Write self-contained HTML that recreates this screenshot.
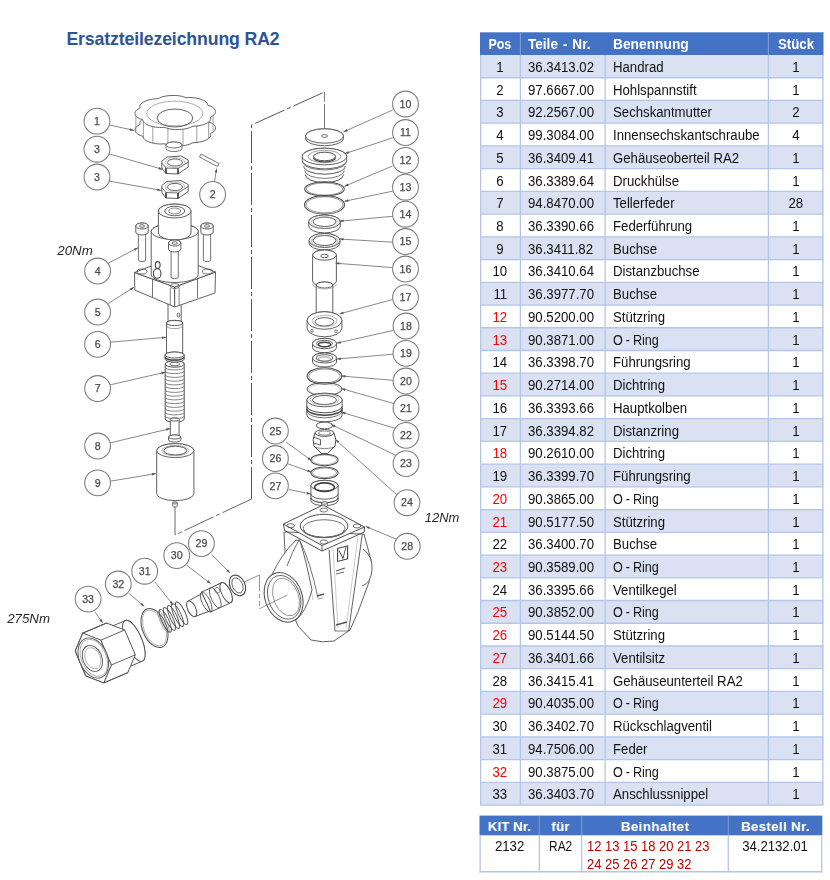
<!DOCTYPE html>
<html><head><meta charset="utf-8"><title>Ersatzteilezeichnung RA2</title>
<style>
html,body{margin:0;padding:0;background:#fff}
body{width:830px;height:880px;position:relative;overflow:hidden;font-family:"Liberation Sans",sans-serif}
</style></head><body>
<div style="position:absolute;left:66.4px;top:28.95px;font-size:17.7px;line-height:20px;font-weight:bold;color:#2d5596;letter-spacing:-0.13px;white-space:nowrap">Ersatzteilezeichnung RA2</div>
<svg width="830" height="880" viewBox="0 0 830 880" style="position:absolute;left:0;top:0;filter:blur(0.3px)" font-family="Liberation Sans, sans-serif"><path d="M251.5,499 L251.5,125 L324.5,92" stroke="#555" stroke-width="1.0" fill="none" stroke-dasharray="32,3,4,3"/>
<line x1="324.5" y1="92.0" x2="324.5" y2="101.7" stroke="#555" stroke-width="0.8" />
<line x1="324.5" y1="104.0" x2="324.5" y2="136.0" stroke="#555" stroke-width="0.8" />
<path d="M251.5,499 L175,535 L175,505" stroke="#555" stroke-width="0.9" fill="none" stroke-dasharray="32,3,4,3"/>
<path d="M215.5,129.0 L215.1,129.9 L214.6,130.7 L213.8,131.6 L212.7,132.4 L211.3,133.1 L210.3,133.8 L210.8,134.8 L210.7,135.7 L210.4,136.6 L209.8,137.4 L208.9,138.2 L207.9,139.0 L206.7,139.8 L205.3,140.4 L203.7,141.0 L202.0,141.5 L200.2,142.0 L198.2,142.3 L196.1,142.6 L193.9,142.7 L192.0,142.9 L190.8,143.7 L189.2,144.3 L187.5,144.9 L185.6,145.3 L183.6,145.6 L181.6,145.8 L179.5,146.0 L177.4,146.0 L175.3,146.0 L173.2,145.9 L171.2,145.6 L169.2,145.3 L167.3,144.8 L165.7,144.2 L163.9,143.8 L161.7,144.0 L159.5,144.0 L157.4,143.8 L155.4,143.6 L153.5,143.2 L151.6,142.8 L149.9,142.3 L148.3,141.7 L146.9,141.0 L145.7,140.3 L144.6,139.5 L143.8,138.7 L143.2,137.8 L143.0,136.9 L142.5,136.1 L140.6,135.5 L139.1,134.9 L137.9,134.2 L136.9,133.4 L136.1,132.5 L135.5,131.7 L135.2,130.8 L135.0,129.9 L135.1,129.0 L135.5,128.1 L136.0,127.3 L136.8,126.4 L137.9,125.6 L139.3,124.9 L140.3,124.2 L139.8,123.2 L139.9,122.3 L140.2,121.4 L140.8,120.6 L141.7,119.8 L142.7,119.0 L143.9,118.2 L145.3,117.6 L146.9,117.0 L148.6,116.5 L150.4,116.0 L152.4,115.7 L154.5,115.4 L156.7,115.3 L158.6,115.1 L159.8,114.3 L161.4,113.7 L163.1,113.1 L165.0,112.7 L167.0,112.4 L169.0,112.2 L171.1,112.0 L173.2,112.0 L175.3,112.0 L177.4,112.1 L179.4,112.4 L181.4,112.7 L183.3,113.2 L184.9,113.8 L186.7,114.2 L188.9,114.0 L191.1,114.0 L193.2,114.2 L195.2,114.4 L197.1,114.8 L199.0,115.2 L200.7,115.7 L202.3,116.3 L203.7,117.0 L204.9,117.7 L206.0,118.5 L206.8,119.3 L207.4,120.2 L207.6,121.1 L208.1,121.9 L210.0,122.5 L211.5,123.1 L212.7,123.8 L213.7,124.6 L214.5,125.5 L215.1,126.3 L215.4,127.2 L215.6,128.1 L215.5,129.0 Z" stroke="#4f4f4f" stroke-width="0.9" fill="#fff" />
<line x1="213.1" y1="115.6" x2="213.1" y2="132.1" stroke="#777" stroke-width="0.7" />
<line x1="208.6" y1="122.0" x2="208.6" y2="138.5" stroke="#777" stroke-width="0.7" />
<line x1="196.8" y1="126.0" x2="196.8" y2="142.5" stroke="#777" stroke-width="0.7" />
<line x1="183.0" y1="129.2" x2="183.0" y2="145.7" stroke="#777" stroke-width="0.7" />
<line x1="167.9" y1="128.5" x2="167.9" y2="145.0" stroke="#777" stroke-width="0.7" />
<line x1="152.8" y1="126.6" x2="152.8" y2="143.1" stroke="#777" stroke-width="0.7" />
<line x1="143.4" y1="121.6" x2="143.4" y2="138.1" stroke="#777" stroke-width="0.7" />
<line x1="135.9" y1="115.7" x2="135.9" y2="132.2" stroke="#777" stroke-width="0.7" />
<path d="M215.5,112.5 L215.1,113.4 L214.6,114.2 L213.8,115.1 L212.7,115.9 L211.3,116.6 L210.3,117.3 L210.8,118.3 L210.7,119.2 L210.4,120.1 L209.8,120.9 L208.9,121.7 L207.9,122.5 L206.7,123.3 L205.3,123.9 L203.7,124.5 L202.0,125.0 L200.2,125.5 L198.2,125.8 L196.1,126.1 L193.9,126.2 L192.0,126.4 L190.8,127.2 L189.2,127.8 L187.5,128.4 L185.6,128.8 L183.6,129.1 L181.6,129.3 L179.5,129.5 L177.4,129.5 L175.3,129.5 L173.2,129.4 L171.2,129.1 L169.2,128.8 L167.3,128.3 L165.7,127.7 L163.9,127.3 L161.7,127.5 L159.5,127.5 L157.4,127.3 L155.4,127.1 L153.5,126.7 L151.6,126.3 L149.9,125.8 L148.3,125.2 L146.9,124.5 L145.7,123.8 L144.6,123.0 L143.8,122.2 L143.2,121.3 L143.0,120.4 L142.5,119.6 L140.6,119.0 L139.1,118.4 L137.9,117.7 L136.9,116.9 L136.1,116.0 L135.5,115.2 L135.2,114.3 L135.0,113.4 L135.1,112.5 L135.5,111.6 L136.0,110.8 L136.8,109.9 L137.9,109.1 L139.3,108.4 L140.3,107.7 L139.8,106.7 L139.9,105.8 L140.2,104.9 L140.8,104.1 L141.7,103.3 L142.7,102.5 L143.9,101.7 L145.3,101.1 L146.9,100.5 L148.6,100.0 L150.4,99.5 L152.4,99.2 L154.5,98.9 L156.7,98.8 L158.6,98.6 L159.8,97.8 L161.4,97.2 L163.1,96.6 L165.0,96.2 L167.0,95.9 L169.0,95.7 L171.1,95.5 L173.2,95.5 L175.3,95.5 L177.4,95.6 L179.4,95.9 L181.4,96.2 L183.3,96.7 L184.9,97.3 L186.7,97.7 L188.9,97.5 L191.1,97.5 L193.2,97.7 L195.2,97.9 L197.1,98.3 L199.0,98.7 L200.7,99.2 L202.3,99.8 L203.7,100.5 L204.9,101.2 L206.0,102.0 L206.8,102.8 L207.4,103.7 L207.6,104.6 L208.1,105.4 L210.0,106.0 L211.5,106.6 L212.7,107.3 L213.7,108.1 L214.5,109.0 L215.1,109.8 L215.4,110.7 L215.6,111.6 L215.5,112.5 Z" stroke="#4f4f4f" stroke-width="0.9" fill="#fff" />
<ellipse cx="174.8" cy="113.5" rx="28.0" ry="12.3" stroke="#888" stroke-width="0.7" fill="none"/>
<ellipse cx="175.0" cy="118.0" rx="17.8" ry="9.0" stroke="#4f4f4f" stroke-width="0.9" fill="none"/>
<path d="M166.0,145.0 L166.0,148.5 A8.0,3.0 0 0 0 182.0,148.5 L182.0,145.0 A8.0,3.0 0 0 0 166.0,145.0 Z" stroke="#4f4f4f" stroke-width="0.8" fill="#fff" />
<ellipse cx="174.0" cy="145.0" rx="8.0" ry="3.0" stroke="#4f4f4f" stroke-width="0.8" fill="#fff"/>
<path d="M201,154 L219,163.5 L217.5,166.5 L199.5,157 Z" stroke="#555" stroke-width="0.8" fill="#fff" />
<path d="M161.8,161.0 L167.0,157.0 L181.0,156.0 L188.2,160.0 L188.2,167.0 L178.0,174.0 L166.0,173.5 L161.8,168.0 Z" stroke="#4f4f4f" stroke-width="0.9" fill="#fff" />
<path d="M161.8,163.0 L166.0,168.0 L178.0,168.5 L188.2,162.0" stroke="#4f4f4f" stroke-width="0.8" fill="none" />
<line x1="166.0" y1="168.0" x2="166.0" y2="173.5" stroke="#333" stroke-width="1.6" />
<line x1="178.0" y1="168.5" x2="178.0" y2="174.0" stroke="#333" stroke-width="1.6" />
<ellipse cx="175.0" cy="162.5" rx="7.5" ry="3.6" stroke="#4f4f4f" stroke-width="0.9" fill="none"/>
<ellipse cx="175.0" cy="162.5" rx="10.0" ry="5.0" stroke="#999" stroke-width="0.6" fill="none"/>
<path d="M161.8,185.5 L167.0,181.5 L181.0,180.5 L188.2,184.5 L188.2,191.5 L178.0,198.5 L166.0,198.0 L161.8,192.5 Z" stroke="#4f4f4f" stroke-width="0.9" fill="#fff" />
<path d="M161.8,187.5 L166.0,192.5 L178.0,193.0 L188.2,186.5" stroke="#4f4f4f" stroke-width="0.8" fill="none" />
<line x1="166.0" y1="192.5" x2="166.0" y2="198.0" stroke="#333" stroke-width="1.6" />
<line x1="178.0" y1="193.0" x2="178.0" y2="198.5" stroke="#333" stroke-width="1.6" />
<ellipse cx="175.0" cy="187.0" rx="7.5" ry="3.6" stroke="#4f4f4f" stroke-width="0.9" fill="none"/>
<ellipse cx="175.0" cy="187.0" rx="10.0" ry="5.0" stroke="#999" stroke-width="0.6" fill="none"/>
<path d="M168.0,300.0 L168.0,323.0 A6.6,2.3 0 0 0 181.2,323.0 L181.2,300.0 A6.6,2.3 0 0 0 168.0,300.0 Z" stroke="#4f4f4f" stroke-width="0.9" fill="#fff" />
<ellipse cx="174.6" cy="300.0" rx="6.6" ry="2.3" stroke="#4f4f4f" stroke-width="0.9" fill="#fff"/>
<ellipse cx="178.5" cy="315.0" rx="1.3" ry="2.0" stroke="#444" stroke-width="0.8" fill="none"/>
<path d="M166.5,323.0 L166.5,355.0 A8.1,2.6 0 0 0 182.7,355.0 L182.7,323.0 A8.1,2.6 0 0 0 166.5,323.0 Z" stroke="#4f4f4f" stroke-width="0.9" fill="#fff" />
<ellipse cx="174.6" cy="323.0" rx="8.1" ry="2.6" stroke="#4f4f4f" stroke-width="0.9" fill="#fff"/>
<path d="M166.5,326.0 A8.1,2.6 0 0 0 182.7,326.0" stroke="#777" stroke-width="0.7" fill="none" />
<path d="M165.0,355.0 L165.0,359.0 A9.6,3.0 0 0 0 184.2,359.0 L184.2,355.0 A9.6,3.0 0 0 0 165.0,355.0 Z" stroke="#4f4f4f" stroke-width="0.9" fill="#fff" />
<ellipse cx="174.6" cy="355.0" rx="9.6" ry="3.0" stroke="#4f4f4f" stroke-width="0.9" fill="#fff"/>
<path d="M165.0,357.0 A9.6,3.0 0 0 0 184.2,357.0" stroke="#444" stroke-width="1.4" fill="none" />
<path d="M134.5,272.5 L174.7,287 L174.7,307 L134.8,290 Z" stroke="#4f4f4f" stroke-width="0.9" fill="#fff" />
<path d="M174.7,287 L215.5,272 L215,293 L174.7,307 Z" stroke="#4f4f4f" stroke-width="0.9" fill="#fff" />
<path d="M134.5,272.5 L174.7,257 L215.5,272 L174.7,287 Z" stroke="#4f4f4f" stroke-width="0.9" fill="#fff" />
<line x1="152.5" y1="279.0" x2="152.5" y2="297.0" stroke="#4f4f4f" stroke-width="0.8" />
<line x1="197.5" y1="279.0" x2="197.5" y2="298.0" stroke="#4f4f4f" stroke-width="0.8" />
<ellipse cx="142.0" cy="271.5" rx="5.0" ry="2.5" stroke="#4f4f4f" stroke-width="0.8" fill="none"/>
<ellipse cx="207.4" cy="271.5" rx="5.0" ry="2.5" stroke="#4f4f4f" stroke-width="0.8" fill="none"/>
<ellipse cx="174.7" cy="286.0" rx="4.6" ry="2.3" stroke="#4f4f4f" stroke-width="0.8" fill="none"/>
<line x1="170.3" y1="288.0" x2="170.3" y2="305.0" stroke="#4f4f4f" stroke-width="0.7" />
<line x1="179.1" y1="288.0" x2="179.1" y2="305.0" stroke="#4f4f4f" stroke-width="0.7" />
<path d="M151.2,231.5 L151.2,274.5 A23.5,8.0 0 0 0 198.2,274.5 L198.2,231.5 A23.5,8.0 0 0 0 151.2,231.5 Z" stroke="#4f4f4f" stroke-width="0.9" fill="#fff" />
<ellipse cx="174.7" cy="231.5" rx="23.5" ry="8.0" stroke="#4f4f4f" stroke-width="0.9" fill="#fff"/>
<path d="M158.4,211.0 L158.4,233.0 A16.3,7.0 0 0 0 191.0,233.0 L191.0,211.0 A16.3,7.0 0 0 0 158.4,211.0 Z" stroke="#4f4f4f" stroke-width="0.9" fill="#fff" />
<ellipse cx="174.7" cy="211.0" rx="16.3" ry="7.0" stroke="#4f4f4f" stroke-width="0.9" fill="#fff"/>
<ellipse cx="174.7" cy="211.0" rx="10.0" ry="4.8" stroke="#4f4f4f" stroke-width="0.9" fill="none"/>
<ellipse cx="174.7" cy="211.0" rx="6.0" ry="3.0" stroke="#4f4f4f" stroke-width="0.7" fill="none"/>
<path d="M138.4,231.0 L138.4,260.0 A3.6,1.6 0 0 0 145.6,260.0 L145.6,231.0 A3.6,1.6 0 0 0 138.4,231.0 Z" stroke="#4f4f4f" stroke-width="0.8" fill="#fff" />
<ellipse cx="142.0" cy="231.0" rx="3.6" ry="1.6" stroke="#4f4f4f" stroke-width="0.8" fill="#fff"/>
<path d="M135.8,226.0 L135.8,232.0 A6.2,3.0 0 0 0 148.2,232.0 L148.2,226.0 A6.2,3.0 0 0 0 135.8,226.0 Z" stroke="#4f4f4f" stroke-width="0.9" fill="#fff" />
<ellipse cx="142.0" cy="226.0" rx="6.2" ry="3.0" stroke="#4f4f4f" stroke-width="0.9" fill="#fff"/>
<ellipse cx="142.0" cy="226.0" rx="2.5" ry="1.3" stroke="#444" stroke-width="0.8" fill="none"/>
<path d="M203.4,231.0 L203.4,260.0 A3.6,1.6 0 0 0 210.6,260.0 L210.6,231.0 A3.6,1.6 0 0 0 203.4,231.0 Z" stroke="#4f4f4f" stroke-width="0.8" fill="#fff" />
<ellipse cx="207.0" cy="231.0" rx="3.6" ry="1.6" stroke="#4f4f4f" stroke-width="0.8" fill="#fff"/>
<path d="M200.8,226.0 L200.8,232.0 A6.2,3.0 0 0 0 213.2,232.0 L213.2,226.0 A6.2,3.0 0 0 0 200.8,226.0 Z" stroke="#4f4f4f" stroke-width="0.9" fill="#fff" />
<ellipse cx="207.0" cy="226.0" rx="6.2" ry="3.0" stroke="#4f4f4f" stroke-width="0.9" fill="#fff"/>
<ellipse cx="207.0" cy="226.0" rx="2.5" ry="1.3" stroke="#444" stroke-width="0.8" fill="none"/>
<path d="M171.1,248.0 L171.1,277.0 A3.6,1.6 0 0 0 178.3,277.0 L178.3,248.0 A3.6,1.6 0 0 0 171.1,248.0 Z" stroke="#4f4f4f" stroke-width="0.8" fill="#fff" />
<ellipse cx="174.7" cy="248.0" rx="3.6" ry="1.6" stroke="#4f4f4f" stroke-width="0.8" fill="#fff"/>
<path d="M168.5,243.0 L168.5,249.0 A6.2,3.0 0 0 0 180.9,249.0 L180.9,243.0 A6.2,3.0 0 0 0 168.5,243.0 Z" stroke="#4f4f4f" stroke-width="0.9" fill="#fff" />
<ellipse cx="174.7" cy="243.0" rx="6.2" ry="3.0" stroke="#4f4f4f" stroke-width="0.9" fill="#fff"/>
<ellipse cx="174.7" cy="243.0" rx="2.5" ry="1.3" stroke="#444" stroke-width="0.8" fill="none"/>
<ellipse cx="157.7" cy="265.0" rx="2.4" ry="3.4" stroke="#444" stroke-width="1.1" fill="none"/>
<ellipse cx="157.2" cy="273.4" rx="3.8" ry="4.8" stroke="#444" stroke-width="1.1" fill="none"/>
<path d="M165.2,364.0 L165.2,419.0 A9.5,3.2 0 0 0 184.2,419.0 L184.2,364.0 A9.5,3.2 0 0 0 165.2,364.0 Z" stroke="#4f4f4f" stroke-width="1.0" fill="#fff" />
<ellipse cx="174.7" cy="364.0" rx="9.5" ry="3.2" stroke="#4f4f4f" stroke-width="1.0" fill="#fff"/>
<ellipse cx="174.7" cy="364.0" rx="5.0" ry="1.8" stroke="#4f4f4f" stroke-width="0.9" fill="none"/>
<path d="M165.2,367.5 A9.5,2.4 0 0 0 184.2,367.5" stroke="#666" stroke-width="0.8" fill="none" />
<path d="M165.2,371.2 A9.5,2.4 0 0 0 184.2,371.2" stroke="#666" stroke-width="0.8" fill="none" />
<path d="M165.2,375.0 A9.5,2.4 0 0 0 184.2,375.0" stroke="#666" stroke-width="0.8" fill="none" />
<path d="M165.2,378.8 A9.5,2.4 0 0 0 184.2,378.8" stroke="#666" stroke-width="0.8" fill="none" />
<path d="M165.2,382.5 A9.5,2.4 0 0 0 184.2,382.5" stroke="#666" stroke-width="0.8" fill="none" />
<path d="M165.2,386.2 A9.5,2.4 0 0 0 184.2,386.2" stroke="#666" stroke-width="0.8" fill="none" />
<path d="M165.2,390.0 A9.5,2.4 0 0 0 184.2,390.0" stroke="#666" stroke-width="0.8" fill="none" />
<path d="M165.2,393.8 A9.5,2.4 0 0 0 184.2,393.8" stroke="#666" stroke-width="0.8" fill="none" />
<path d="M165.2,397.5 A9.5,2.4 0 0 0 184.2,397.5" stroke="#666" stroke-width="0.8" fill="none" />
<path d="M165.2,401.2 A9.5,2.4 0 0 0 184.2,401.2" stroke="#666" stroke-width="0.8" fill="none" />
<path d="M165.2,405.0 A9.5,2.4 0 0 0 184.2,405.0" stroke="#666" stroke-width="0.8" fill="none" />
<path d="M165.2,408.8 A9.5,2.4 0 0 0 184.2,408.8" stroke="#666" stroke-width="0.8" fill="none" />
<path d="M165.2,412.5 A9.5,2.4 0 0 0 184.2,412.5" stroke="#666" stroke-width="0.8" fill="none" />
<path d="M165.2,416.2 A9.5,2.4 0 0 0 184.2,416.2" stroke="#666" stroke-width="0.8" fill="none" />
<path d="M170.3,419.5 L170.3,436.5 A4.4,1.6 0 0 0 179.1,436.5 L179.1,419.5 A4.4,1.6 0 0 0 170.3,419.5 Z" stroke="#4f4f4f" stroke-width="0.9" fill="#fff" />
<ellipse cx="174.7" cy="419.5" rx="4.4" ry="1.6" stroke="#4f4f4f" stroke-width="0.9" fill="#fff"/>
<path d="M168.5,437.0 L168.5,440.0 A6.2,2.0 0 0 0 180.9,440.0 L180.9,437.0 A6.2,2.0 0 0 0 168.5,437.0 Z" stroke="#4f4f4f" stroke-width="0.9" fill="#fff" />
<ellipse cx="174.7" cy="437.0" rx="6.2" ry="2.0" stroke="#4f4f4f" stroke-width="0.9" fill="#fff"/>
<path d="M156.7,450.6 L156.7,493.6 A18.6,7.0 0 0 0 193.9,493.6 L193.9,450.6 A18.6,7.0 0 0 0 156.7,450.6 Z" stroke="#4f4f4f" stroke-width="0.9" fill="#fff" />
<ellipse cx="175.3" cy="450.6" rx="18.6" ry="7.0" stroke="#4f4f4f" stroke-width="0.9" fill="#fff"/>
<ellipse cx="175.3" cy="450.6" rx="11.5" ry="4.4" stroke="#4f4f4f" stroke-width="1.0" fill="none"/>
<ellipse cx="175.3" cy="450.6" rx="13.5" ry="5.2" stroke="#888" stroke-width="0.6" fill="none"/>
<path d="M172.7,503.0 L172.7,506.0 A2.3,1.0 0 0 0 177.3,506.0 L177.3,503.0 A2.3,1.0 0 0 0 172.7,503.0 Z" stroke="#4f4f4f" stroke-width="0.8" fill="#fff" />
<ellipse cx="175.0" cy="503.0" rx="2.3" ry="1.0" stroke="#4f4f4f" stroke-width="0.8" fill="#fff"/>
<path d="M305.5,136.0 L305.5,138.5 A19.0,7.2 0 0 0 343.5,138.5 L343.5,136.0 A19.0,7.2 0 0 0 305.5,136.0 Z" stroke="#4f4f4f" stroke-width="0.9" fill="#fff" />
<ellipse cx="324.5" cy="136.0" rx="19.0" ry="7.2" stroke="#4f4f4f" stroke-width="0.9" fill="#fff"/>
<ellipse cx="324.5" cy="136.0" rx="3.0" ry="1.4" stroke="#4f4f4f" stroke-width="0.8" fill="none"/>
<path d="M305.4,174.6 A19.1,8.0 0 0 0 343.6,174.6" stroke="#555" stroke-width="1.0" fill="none" />
<path d="M304.6,170.4 A19.9,8.0 0 0 0 344.4,170.4" stroke="#555" stroke-width="0.8" fill="none" />
<path d="M303.8,166.2 A20.7,8.0 0 0 0 345.2,166.2" stroke="#555" stroke-width="1.0" fill="none" />
<path d="M303.0,162.0 A21.5,8.0 0 0 0 346.0,162.0" stroke="#555" stroke-width="0.8" fill="none" />
<path d="M302.3,156.5 L302.3,160.5 A22.2,8.3 0 0 0 346.7,160.5 L346.7,156.5 A22.2,8.3 0 0 0 302.3,156.5 Z" stroke="#4f4f4f" stroke-width="0.9" fill="#fff" />
<ellipse cx="324.5" cy="156.5" rx="22.2" ry="8.3" stroke="#4f4f4f" stroke-width="0.9" fill="#fff"/>
<ellipse cx="324.5" cy="156.5" rx="16.5" ry="6.2" stroke="#777" stroke-width="0.7" fill="none"/>
<ellipse cx="324.5" cy="156.5" rx="11.0" ry="4.3" stroke="#4f4f4f" stroke-width="1.0" fill="none"/>
<path d="M313.5,157.5 A11.0,4.3 0 0 0 335.5,157.5" stroke="#555" stroke-width="1.3" fill="none" />
<ellipse cx="324.5" cy="189.0" rx="19.8" ry="7.2" stroke="#4f4f4f" stroke-width="1.1" fill="none"/>
<ellipse cx="324.5" cy="189.0" rx="18.3" ry="6.1" stroke="#4f4f4f" stroke-width="0.6" fill="none"/>
<ellipse cx="324.5" cy="204.8" rx="20.0" ry="9.3" stroke="#4f4f4f" stroke-width="1.1" fill="none"/>
<ellipse cx="324.5" cy="204.8" rx="18.5" ry="8.1" stroke="#4f4f4f" stroke-width="0.6" fill="none"/>
<path d="M308.7,221.8 L308.7,226.1 A15.8,6.8 0 0 0 340.3,226.1 L340.3,221.8 A15.8,6.8 0 0 0 308.7,221.8 Z" stroke="#4f4f4f" stroke-width="0.9" fill="#fff" />
<ellipse cx="324.5" cy="221.8" rx="15.8" ry="6.8" stroke="#4f4f4f" stroke-width="0.9" fill="#fff"/>
<ellipse cx="324.5" cy="221.8" rx="11.5" ry="4.7" stroke="#4f4f4f" stroke-width="0.9" fill="none"/>
<ellipse cx="324.5" cy="222.5" rx="13.5" ry="5.7" stroke="#999" stroke-width="0.5" fill="none"/>
<path d="M309.0,240.5 L309.0,243.0 A15.5,7.0 0 0 0 340.0,243.0 L340.0,240.5 A15.5,7.0 0 0 0 309.0,240.5 Z" stroke="#4f4f4f" stroke-width="0.9" fill="#fff" />
<ellipse cx="324.5" cy="240.5" rx="15.5" ry="7.0" stroke="#4f4f4f" stroke-width="0.9" fill="#fff"/>
<ellipse cx="324.5" cy="240.5" rx="11.5" ry="5.0" stroke="#4f4f4f" stroke-width="0.9" fill="none"/>
<ellipse cx="324.5" cy="241.2" rx="13.2" ry="5.9" stroke="#888" stroke-width="0.6" fill="none"/>
<path d="M312.6,255.1 L312.6,281.1 A11.9,5.1 0 0 0 336.4,281.1 L336.4,255.1 A11.9,5.1 0 0 0 312.6,255.1 Z" stroke="#4f4f4f" stroke-width="0.9" fill="#fff" />
<ellipse cx="324.5" cy="255.1" rx="11.9" ry="5.1" stroke="#4f4f4f" stroke-width="0.9" fill="#fff"/>
<ellipse cx="324.5" cy="256.0" rx="3.8" ry="1.7" stroke="#4f4f4f" stroke-width="0.9" fill="none"/>
<path d="M316.2,285.0 L316.2,312.0 A8.3,3.0 0 0 0 332.8,312.0 L332.8,285.0 A8.3,3.0 0 0 0 316.2,285.0 Z" stroke="#4f4f4f" stroke-width="0.9" fill="#fff" />
<ellipse cx="324.5" cy="285.0" rx="8.3" ry="3.0" stroke="#4f4f4f" stroke-width="0.9" fill="#fff"/>
<path d="M312.6,284.0 A11.9,5.0 0 0 0 336.4,284.0" stroke="#888" stroke-width="0.6" fill="none" />
<path d="M307.1,320.5 L307.1,328.0 A17.4,8.8 0 0 0 341.9,328.0 L341.9,320.5 A17.4,8.8 0 0 0 307.1,320.5 Z" stroke="#4f4f4f" stroke-width="0.9" fill="#fff" />
<ellipse cx="324.5" cy="320.5" rx="17.4" ry="8.8" stroke="#4f4f4f" stroke-width="0.9" fill="#fff"/>
<ellipse cx="324.5" cy="321.8" rx="9.5" ry="4.2" stroke="#4f4f4f" stroke-width="0.9" fill="none"/>
<ellipse cx="324.5" cy="321.0" rx="12.5" ry="5.8" stroke="#888" stroke-width="0.6" fill="none"/>
<ellipse cx="312.0" cy="330.7" rx="1.2" ry="1.6" stroke="#4f4f4f" stroke-width="0.8" fill="none"/>
<ellipse cx="336.0" cy="331.4" rx="1.2" ry="1.6" stroke="#4f4f4f" stroke-width="0.8" fill="none"/>
<path d="M312.5,343.5 L312.5,347.5 A12.0,5.2 0 0 0 336.5,347.5 L336.5,343.5 A12.0,5.2 0 0 0 312.5,343.5 Z" stroke="#4f4f4f" stroke-width="0.9" fill="#fff" />
<ellipse cx="324.5" cy="343.5" rx="12.0" ry="5.2" stroke="#4f4f4f" stroke-width="0.9" fill="#fff"/>
<ellipse cx="324.5" cy="343.5" rx="8.0" ry="3.2" stroke="#4f4f4f" stroke-width="0.9" fill="none"/>
<ellipse cx="324.5" cy="344.5" rx="6.0" ry="2.2" stroke="#444" stroke-width="1.4" fill="none"/>
<path d="M312.5,358.0 L312.5,362.0 A12.0,5.0 0 0 0 336.5,362.0 L336.5,358.0 A12.0,5.0 0 0 0 312.5,358.0 Z" stroke="#4f4f4f" stroke-width="0.9" fill="#fff" />
<ellipse cx="324.5" cy="358.0" rx="12.0" ry="5.0" stroke="#4f4f4f" stroke-width="0.9" fill="#fff"/>
<ellipse cx="324.5" cy="358.0" rx="8.5" ry="3.3" stroke="#4f4f4f" stroke-width="0.9" fill="none"/>
<ellipse cx="324.5" cy="359.0" rx="6.0" ry="2.2" stroke="#777" stroke-width="0.8" fill="none"/>
<ellipse cx="324.5" cy="376.0" rx="17.4" ry="8.2" stroke="#4f4f4f" stroke-width="1.1" fill="none"/>
<ellipse cx="324.5" cy="376.0" rx="15.8" ry="7.0" stroke="#4f4f4f" stroke-width="0.6" fill="none"/>
<ellipse cx="324.5" cy="389.0" rx="17.6" ry="6.5" stroke="#4f4f4f" stroke-width="1.0" fill="none"/>
<ellipse cx="324.5" cy="389.5" rx="16.0" ry="5.6" stroke="#999" stroke-width="0.5" fill="none"/>
<path d="M306.8,400.0 L306.8,415.0 A17.7,6.8 0 0 0 342.2,415.0 L342.2,400.0 A17.7,6.8 0 0 0 306.8,400.0 Z" stroke="#4f4f4f" stroke-width="0.9" fill="#fff" />
<ellipse cx="324.5" cy="400.0" rx="17.7" ry="6.8" stroke="#4f4f4f" stroke-width="0.9" fill="#fff"/>
<ellipse cx="324.5" cy="400.0" rx="12.0" ry="4.5" stroke="#4f4f4f" stroke-width="0.9" fill="none"/>
<ellipse cx="324.5" cy="399.5" rx="14.5" ry="5.5" stroke="#888" stroke-width="0.6" fill="none"/>
<path d="M306.8,406.0 A17.7,6.8 0 0 0 342.2,406.0" stroke="#4f4f4f" stroke-width="1.0" fill="none" />
<path d="M306.8,408.5 A17.7,6.8 0 0 0 342.2,408.5" stroke="#444" stroke-width="1.5" fill="none" />
<path d="M306.8,411.0 A17.7,6.8 0 0 0 342.2,411.0" stroke="#4f4f4f" stroke-width="0.8" fill="none" />
<ellipse cx="324.5" cy="425.5" rx="8.2" ry="3.4" stroke="#4f4f4f" stroke-width="1.0" fill="none"/>
<path d="M315.0,433 Q311.7,440 314.0,446 L321.5,453.5 L327.5,453.5 L335.0,446 Q337.3,440 334.0,433 Z" stroke="#4f4f4f" stroke-width="1.0" fill="#fff" />
<ellipse cx="324.5" cy="433.0" rx="9.5" ry="3.4" stroke="#4f4f4f" stroke-width="1.0" fill="#fff"/>
<ellipse cx="324.5" cy="433.0" rx="6.0" ry="2.0" stroke="#666" stroke-width="0.8" fill="none"/>
<path d="M313.0,437 L320.5,439.5 L320.5,445 L313.7,443" stroke="#4f4f4f" stroke-width="0.9" fill="none" />
<path d="M314.0,446.0 A10.5,2.5 0 0 0 335.0,446.0" stroke="#4f4f4f" stroke-width="0.7" fill="none" />
<ellipse cx="324.5" cy="459.9" rx="13.6" ry="5.8" stroke="#4f4f4f" stroke-width="1.1" fill="none"/>
<ellipse cx="324.5" cy="459.9" rx="12.2" ry="4.8" stroke="#888" stroke-width="0.6" fill="none"/>
<ellipse cx="324.5" cy="472.8" rx="13.6" ry="5.8" stroke="#4f4f4f" stroke-width="1.1" fill="none"/>
<ellipse cx="324.5" cy="472.8" rx="12.0" ry="4.8" stroke="#777" stroke-width="0.7" fill="none"/>
<path d="M310.9,485.5 L310.9,500.5 A13.6,5.2 0 0 0 338.1,500.5 L338.1,485.5 A13.6,5.2 0 0 0 310.9,485.5 Z" stroke="#4f4f4f" stroke-width="0.9" fill="#fff" />
<ellipse cx="324.5" cy="485.5" rx="13.6" ry="5.2" stroke="#4f4f4f" stroke-width="0.9" fill="#fff"/>
<ellipse cx="324.5" cy="487.2" rx="9.9" ry="4.3" stroke="#444" stroke-width="1.6" fill="none"/>
<path d="M310.9,494.0 A13.6,5.2 0 0 0 338.1,494.0" stroke="#4f4f4f" stroke-width="0.9" fill="none" />
<path d="M310.9,497.5 A13.6,5.2 0 0 0 338.1,497.5" stroke="#555" stroke-width="1.1" fill="none" />
<path d="M321.7,503.0 L321.7,506.0 A2.8,1.2 0 0 0 327.3,506.0 L327.3,503.0 A2.8,1.2 0 0 0 321.7,503.0 Z" stroke="#4f4f4f" stroke-width="0.8" fill="#fff" />
<ellipse cx="324.5" cy="503.0" rx="2.8" ry="1.2" stroke="#4f4f4f" stroke-width="0.8" fill="#fff"/>
<path d="M284,532 L286,570 L292,612 L298,626 L311,640 Q322,643 334,641 L350,630 L358,612 L369,582 L371,560 L364,534 Z" stroke="#4f4f4f" stroke-width="0.9" fill="#fff" />
<path d="M363,549 Q373,556 372,570 Q371,583 362,586" stroke="#4f4f4f" stroke-width="0.9" fill="#fff" />
<path d="M329,549.4 L335,631 M362.3,534.1 L348.6,631" stroke="#4f4f4f" stroke-width="0.9" fill="none" />
<path d="M333,548 L338,628 M358,536 L346,628" stroke="#999" stroke-width="0.5" fill="none" />
<line x1="335.0" y1="631.0" x2="348.6" y2="631.0" stroke="#4f4f4f" stroke-width="0.7" />
<path d="M299,539 Q310,560 318,598" stroke="#4f4f4f" stroke-width="0.8" fill="none" />
<path d="M296,540 Q306,562 313,600" stroke="#999" stroke-width="0.5" fill="none" />
<path d="M283.4,524 L323,505 L364.5,527 L322,545.5 Z" stroke="#4f4f4f" stroke-width="1.0" fill="#fff" />
<path d="M283.4,524 L284.6,530.5 L322,551 L364.3,532 L364.5,527" stroke="#4f4f4f" stroke-width="1.0" fill="none" />
<line x1="322.0" y1="545.5" x2="322.0" y2="551.0" stroke="#4f4f4f" stroke-width="0.9" />
<ellipse cx="324.1" cy="526.0" rx="23.8" ry="11.7" stroke="#4f4f4f" stroke-width="1.0" fill="#fff"/>
<ellipse cx="324.1" cy="528.5" rx="21.0" ry="8.8" stroke="#4f4f4f" stroke-width="0.8" fill="none"/>
<path d="M304.1,530.0 A20.0,7.5 0 0 0 344.1,530.0" stroke="#666" stroke-width="1.2" fill="none" />
<ellipse cx="290.7" cy="525.7" rx="3.8" ry="2.0" stroke="#4f4f4f" stroke-width="0.8" fill="none"/>
<ellipse cx="357.0" cy="526.0" rx="3.8" ry="2.0" stroke="#4f4f4f" stroke-width="0.8" fill="none"/>
<ellipse cx="323.8" cy="542.0" rx="3.8" ry="2.0" stroke="#4f4f4f" stroke-width="0.8" fill="none"/>
<ellipse cx="323.8" cy="510.0" rx="3.8" ry="2.0" stroke="#4f4f4f" stroke-width="0.8" fill="none"/>
<rect x="337.6" y="548.6" width="10" height="13" fill="none" stroke="#444" stroke-width="1.1" transform="skewY(-14) translate(0 84)"/>
<path d="M339,551 L343,560 L346,549" stroke="#444" stroke-width="0.9" fill="none" transform="skewY(-14) translate(0 84)"/>
<line x1="336.0" y1="571.0" x2="345.0" y2="568.0" stroke="#555" stroke-width="1.3" />
<line x1="336.0" y1="574.0" x2="344.0" y2="572.0" stroke="#666" stroke-width="1.0" />
<line x1="317.0" y1="596.0" x2="324.0" y2="594.0" stroke="#555" stroke-width="1.5" />
<line x1="318.0" y1="599.0" x2="323.0" y2="598.0" stroke="#777" stroke-width="0.8" />
<line x1="336.0" y1="625.0" x2="347.0" y2="622.0" stroke="#555" stroke-width="1.4" />
<path d="M272,575 Q280,556 296,540 L300,541 Q306,560 312,590 Q306,612 296,620 Z" stroke="#4f4f4f" stroke-width="0.9" fill="#fff" />
<path d="M287,566 Q292,552 299,540" stroke="#4f4f4f" stroke-width="0.8" fill="none" />
<ellipse cx="283.6" cy="597.3" rx="18.5" ry="25.5" stroke="#4f4f4f" stroke-width="1.0" fill="#fff" transform="rotate(-20 283.6 597.3)"/>
<ellipse cx="284.2" cy="597.3" rx="15.8" ry="22.5" stroke="#4f4f4f" stroke-width="0.8" fill="none" transform="rotate(-20 284.2 597.3)"/>
<ellipse cx="286.0" cy="597.0" rx="12.5" ry="19.5" stroke="#777" stroke-width="0.7" fill="none" transform="rotate(-20 286.0 597.0)"/>
<path d="M245,581.6 L259.5,575 L259.5,606" stroke="#666" stroke-width="0.7" fill="none" stroke-dasharray="32,3,4,3"/>
<line x1="259.5" y1="608.7" x2="287.3" y2="595.1" stroke="#666" stroke-width="0.7" />
<g transform="translate(93.3 658) rotate(-23)">
<path d="M24,-22 L44,-22 A8,22 0 0 1 44,22 L24,22 Z" stroke="#4f4f4f" stroke-width="0.9" fill="#fff" />
<ellipse cx="44.0" cy="0.0" rx="8.0" ry="22.0" stroke="#4f4f4f" stroke-width="0.9" fill="#fff"/>
<line x1="30.0" y1="-22.0" x2="30.0" y2="22.0" stroke="#888" stroke-width="0.6" />
<path d="M-13.9,-13.5 L-0.0,-27.0 L26.0,-27.0 L39.9,-13.5 L39.9,13.5 L26.0,27.0 L0.0,27.0 L-13.9,13.5 Z" stroke="#4f4f4f" stroke-width="0.9" fill="#fff" />
<line x1="-0.0" y1="-27.0" x2="26.0" y2="-27.0" stroke="#4f4f4f" stroke-width="0.8" />
<line x1="13.9" y1="-13.5" x2="39.9" y2="-13.5" stroke="#4f4f4f" stroke-width="0.8" />
<line x1="13.9" y1="13.5" x2="39.9" y2="13.5" stroke="#4f4f4f" stroke-width="0.8" />
<line x1="0.0" y1="27.0" x2="26.0" y2="27.0" stroke="#4f4f4f" stroke-width="0.8" />
<path d="M13.9,13.5 L0.0,27.0 L-13.9,13.5 L-13.9,-13.5 L-0.0,-27.0 L13.9,-13.5 Z" stroke="#4f4f4f" stroke-width="1.0" fill="#fff" />
<ellipse cx="0.0" cy="0.0" rx="14.0" ry="21.0" stroke="#4f4f4f" stroke-width="0.9" fill="#fff"/>
<ellipse cx="0.5" cy="0.0" rx="12.5" ry="19.5" stroke="#888" stroke-width="0.6" fill="none"/>
<ellipse cx="-1.0" cy="0.0" rx="9.5" ry="13.5" stroke="#4f4f4f" stroke-width="0.9" fill="none"/>
<ellipse cx="-0.5" cy="0.0" rx="7.5" ry="11.0" stroke="#888" stroke-width="0.6" fill="none"/>
</g>
<ellipse cx="154.5" cy="628.0" rx="12.0" ry="20.5" stroke="#4f4f4f" stroke-width="1.0" fill="none" transform="rotate(-22 154.5 628.0)"/>
<ellipse cx="154.5" cy="628.0" rx="10.5" ry="19.0" stroke="#888" stroke-width="0.6" fill="none" transform="rotate(-22 154.5 628.0)"/>
<g transform="translate(173.5 617) rotate(-25)">
<ellipse cx="-9.0" cy="0.0" rx="3.5" ry="12.5" stroke="#4f4f4f" stroke-width="0.9" fill="none"/>
<ellipse cx="-4.5" cy="0.0" rx="3.5" ry="12.5" stroke="#4f4f4f" stroke-width="0.9" fill="none"/>
<ellipse cx="0.0" cy="0.0" rx="3.5" ry="12.5" stroke="#4f4f4f" stroke-width="0.9" fill="none"/>
<ellipse cx="4.5" cy="0.0" rx="3.5" ry="12.5" stroke="#4f4f4f" stroke-width="0.9" fill="none"/>
<ellipse cx="9.0" cy="0.0" rx="3.5" ry="12.5" stroke="#4f4f4f" stroke-width="0.9" fill="none"/>
<ellipse cx="-11.0" cy="0.0" rx="3.0" ry="12.0" stroke="#888" stroke-width="0.7" fill="none"/>
</g>
<g transform="translate(191.7 608.8) rotate(-25)">
<path d="M0,-8.5 L16,-9.5 L16,9.5 L0,8.5 Z" stroke="#4f4f4f" stroke-width="0.9" fill="#fff" />
<path d="M16,-11 L38,-11 A4.5,11 0 0 1 38,11 L16,11 Z" stroke="#4f4f4f" stroke-width="0.9" fill="#fff" />
<ellipse cx="38.0" cy="0.0" rx="4.5" ry="11.0" stroke="#4f4f4f" stroke-width="0.9" fill="#fff"/>
<ellipse cx="16.0" cy="0.0" rx="4.0" ry="11.0" stroke="#4f4f4f" stroke-width="0.8" fill="none"/>
<ellipse cx="26.0" cy="0.0" rx="4.0" ry="11.0" stroke="#4f4f4f" stroke-width="0.8" fill="none"/>
<ellipse cx="0.0" cy="0.0" rx="4.0" ry="8.5" stroke="#4f4f4f" stroke-width="1.0" fill="#fff"/>
<ellipse cx="31.0" cy="-6.0" rx="2.5" ry="3.0" stroke="#4f4f4f" stroke-width="0.7" fill="none"/>
</g>
<ellipse cx="237.5" cy="585.4" rx="7.5" ry="10.8" stroke="#4f4f4f" stroke-width="1.1" fill="#fff" transform="rotate(-25 237.5 585.4)"/>
<ellipse cx="237.5" cy="585.4" rx="5.0" ry="8.0" stroke="#4f4f4f" stroke-width="0.8" fill="none" transform="rotate(-25 237.5 585.4)"/>
<line x1="109.5" y1="125.0" x2="134.0" y2="130.4" stroke="#555" stroke-width="0.7" />
<path d="M134.0,130.4 L129.8,130.8 L130.4,128.3 Z" fill="#555"/>
<line x1="108.0" y1="153.6" x2="162.7" y2="169.4" stroke="#555" stroke-width="0.7" />
<path d="M162.7,169.4 L158.5,169.5 L159.2,167.0 Z" fill="#555"/>
<line x1="108.0" y1="180.9" x2="161.3" y2="190.4" stroke="#555" stroke-width="0.7" />
<path d="M161.3,190.4 L157.1,191.0 L157.6,188.4 Z" fill="#555"/>
<line x1="108.2" y1="263.2" x2="138.1" y2="247.7" stroke="#555" stroke-width="0.7" />
<path d="M138.1,247.7 L135.1,250.7 L134.0,248.4 Z" fill="#555"/>
<line x1="108.2" y1="303.6" x2="134.0" y2="287.2" stroke="#555" stroke-width="0.7" />
<path d="M134.0,287.2 L131.3,290.4 L129.9,288.2 Z" fill="#555"/>
<line x1="110.3" y1="342.2" x2="166.0" y2="337.3" stroke="#555" stroke-width="0.7" />
<path d="M166.0,337.3 L162.1,338.9 L161.9,336.4 Z" fill="#555"/>
<line x1="109.5" y1="385.0" x2="165.4" y2="372.2" stroke="#555" stroke-width="0.7" />
<path d="M165.4,372.2 L161.8,374.4 L161.2,371.8 Z" fill="#555"/>
<line x1="110.3" y1="442.8" x2="170.3" y2="428.6" stroke="#555" stroke-width="0.7" />
<path d="M170.3,428.6 L166.7,430.8 L166.1,428.3 Z" fill="#555"/>
<line x1="110.3" y1="481.2" x2="155.9" y2="473.6" stroke="#555" stroke-width="0.7" />
<path d="M155.9,473.6 L152.2,475.5 L151.7,473.0 Z" fill="#555"/>
<line x1="392.7" y1="110.0" x2="343.6" y2="131.8" stroke="#555" stroke-width="0.7" />
<path d="M343.6,131.8 L346.7,129.0 L347.8,131.4 Z" fill="#555"/>
<line x1="392.7" y1="137.8" x2="345.0" y2="153.6" stroke="#555" stroke-width="0.7" />
<path d="M345.0,153.6 L348.4,151.1 L349.2,153.6 Z" fill="#555"/>
<line x1="392.7" y1="165.9" x2="344.4" y2="186.3" stroke="#555" stroke-width="0.7" />
<path d="M344.4,186.3 L347.6,183.5 L348.6,185.9 Z" fill="#555"/>
<line x1="392.7" y1="191.2" x2="344.4" y2="201.3" stroke="#555" stroke-width="0.7" />
<path d="M344.4,201.3 L348.0,199.2 L348.6,201.8 Z" fill="#555"/>
<line x1="392.7" y1="216.3" x2="339.5" y2="221.2" stroke="#555" stroke-width="0.7" />
<path d="M339.5,221.2 L343.4,219.5 L343.6,222.1 Z" fill="#555"/>
<line x1="392.7" y1="242.2" x2="339.5" y2="239.0" stroke="#555" stroke-width="0.7" />
<path d="M339.5,239.0 L343.6,237.9 L343.4,240.5 Z" fill="#555"/>
<line x1="392.7" y1="267.6" x2="335.4" y2="263.2" stroke="#555" stroke-width="0.7" />
<path d="M335.4,263.2 L339.5,262.2 L339.3,264.8 Z" fill="#555"/>
<line x1="392.7" y1="299.5" x2="339.5" y2="313.9" stroke="#555" stroke-width="0.7" />
<path d="M339.5,313.9 L343.0,311.6 L343.7,314.1 Z" fill="#555"/>
<line x1="393.2" y1="330.4" x2="336.8" y2="343.2" stroke="#555" stroke-width="0.7" />
<path d="M336.8,343.2 L340.4,341.0 L341.0,343.6 Z" fill="#555"/>
<line x1="393.2" y1="354.2" x2="336.8" y2="359.0" stroke="#555" stroke-width="0.7" />
<path d="M336.8,359.0 L340.7,357.4 L340.9,360.0 Z" fill="#555"/>
<line x1="393.2" y1="380.3" x2="341.4" y2="376.0" stroke="#555" stroke-width="0.7" />
<path d="M341.4,376.0 L345.5,375.0 L345.3,377.6 Z" fill="#555"/>
<line x1="395.4" y1="404.0" x2="341.4" y2="388.5" stroke="#555" stroke-width="0.7" />
<path d="M341.4,388.5 L345.6,388.4 L344.9,390.9 Z" fill="#555"/>
<line x1="396.0" y1="428.6" x2="341.4" y2="412.2" stroke="#555" stroke-width="0.7" />
<path d="M341.4,412.2 L345.6,412.1 L344.9,414.6 Z" fill="#555"/>
<line x1="396.8" y1="455.8" x2="331.3" y2="424.5" stroke="#555" stroke-width="0.7" />
<path d="M331.3,424.5 L335.5,425.1 L334.3,427.4 Z" fill="#555"/>
<line x1="397.6" y1="495.4" x2="335.4" y2="439.5" stroke="#555" stroke-width="0.7" />
<path d="M335.4,439.5 L339.2,441.2 L337.5,443.1 Z" fill="#555"/>
<line x1="286.3" y1="442.2" x2="311.4" y2="460.5" stroke="#555" stroke-width="0.7" />
<path d="M311.4,460.5 L307.4,459.2 L308.9,457.1 Z" fill="#555"/>
<line x1="286.9" y1="463.5" x2="311.4" y2="472.2" stroke="#555" stroke-width="0.7" />
<path d="M311.4,472.2 L307.2,472.1 L308.1,469.6 Z" fill="#555"/>
<line x1="288.5" y1="489.4" x2="310.9" y2="494.0" stroke="#555" stroke-width="0.7" />
<path d="M310.9,494.0 L306.7,494.5 L307.2,491.9 Z" fill="#555"/>
<line x1="397.0" y1="539.5" x2="365.7" y2="526.4" stroke="#555" stroke-width="0.7" />
<path d="M365.7,526.4 L369.9,526.7 L368.9,529.1 Z" fill="#555"/>
<line x1="211.7" y1="554.7" x2="230.0" y2="573.0" stroke="#555" stroke-width="0.7" />
<path d="M230.0,573.0 L226.3,571.1 L228.1,569.3 Z" fill="#555"/>
<line x1="186.6" y1="565.3" x2="210.7" y2="583.6" stroke="#555" stroke-width="0.7" />
<path d="M210.7,583.6 L206.7,582.2 L208.3,580.1 Z" fill="#555"/>
<line x1="154.8" y1="581.7" x2="173.1" y2="604.8" stroke="#555" stroke-width="0.7" />
<path d="M173.1,604.8 L169.6,602.5 L171.6,600.9 Z" fill="#555"/>
<line x1="128.8" y1="593.3" x2="144.2" y2="606.4" stroke="#555" stroke-width="0.7" />
<path d="M144.2,606.4 L140.3,604.8 L142.0,602.8 Z" fill="#555"/>
<line x1="95.0" y1="612.1" x2="102.7" y2="622.9" stroke="#555" stroke-width="0.7" />
<path d="M102.7,622.9 L99.3,620.4 L101.4,618.9 Z" fill="#555"/>
<line x1="214.6" y1="181.2" x2="216.6" y2="168.6" stroke="#555" stroke-width="0.7" />
<path d="M216.6,168.6 L217.3,172.8 L214.7,172.3 Z" fill="#555"/>
<circle cx="97.0" cy="121.2" r="12.9" stroke="#7c7c7c" stroke-width="1.05" fill="#fff"/>
<text x="97.0" y="124.9" text-anchor="middle" font-size="10.6" fill="#4a4a4a" stroke="#4a4a4a" stroke-width="0.25">1</text>
<circle cx="97.0" cy="149.2" r="12.9" stroke="#7c7c7c" stroke-width="1.05" fill="#fff"/>
<text x="97.0" y="152.9" text-anchor="middle" font-size="10.6" fill="#4a4a4a" stroke="#4a4a4a" stroke-width="0.25">3</text>
<circle cx="97.0" cy="177.0" r="12.9" stroke="#7c7c7c" stroke-width="1.05" fill="#fff"/>
<text x="97.0" y="180.7" text-anchor="middle" font-size="10.6" fill="#4a4a4a" stroke="#4a4a4a" stroke-width="0.25">3</text>
<circle cx="212.6" cy="194.4" r="12.9" stroke="#7c7c7c" stroke-width="1.05" fill="#fff"/>
<text x="212.6" y="198.1" text-anchor="middle" font-size="10.6" fill="#4a4a4a" stroke="#4a4a4a" stroke-width="0.25">2</text>
<circle cx="97.6" cy="271.0" r="12.9" stroke="#7c7c7c" stroke-width="1.05" fill="#fff"/>
<text x="97.6" y="274.7" text-anchor="middle" font-size="10.6" fill="#4a4a4a" stroke="#4a4a4a" stroke-width="0.25">4</text>
<circle cx="97.6" cy="312.0" r="12.9" stroke="#7c7c7c" stroke-width="1.05" fill="#fff"/>
<text x="97.6" y="315.7" text-anchor="middle" font-size="10.6" fill="#4a4a4a" stroke="#4a4a4a" stroke-width="0.25">5</text>
<circle cx="97.6" cy="344.3" r="12.9" stroke="#7c7c7c" stroke-width="1.05" fill="#fff"/>
<text x="97.6" y="348.0" text-anchor="middle" font-size="10.6" fill="#4a4a4a" stroke="#4a4a4a" stroke-width="0.25">6</text>
<circle cx="97.6" cy="388.5" r="12.9" stroke="#7c7c7c" stroke-width="1.05" fill="#fff"/>
<text x="97.6" y="392.2" text-anchor="middle" font-size="10.6" fill="#4a4a4a" stroke="#4a4a4a" stroke-width="0.25">7</text>
<circle cx="97.6" cy="446.0" r="12.9" stroke="#7c7c7c" stroke-width="1.05" fill="#fff"/>
<text x="97.6" y="449.7" text-anchor="middle" font-size="10.6" fill="#4a4a4a" stroke="#4a4a4a" stroke-width="0.25">8</text>
<circle cx="97.6" cy="482.8" r="12.9" stroke="#7c7c7c" stroke-width="1.05" fill="#fff"/>
<text x="97.6" y="486.5" text-anchor="middle" font-size="10.6" fill="#4a4a4a" stroke="#4a4a4a" stroke-width="0.25">9</text>
<circle cx="405.5" cy="104.0" r="12.9" stroke="#7c7c7c" stroke-width="1.05" fill="#fff"/>
<text x="405.5" y="107.7" text-anchor="middle" font-size="10.6" fill="#4a4a4a" stroke="#4a4a4a" stroke-width="0.25">10</text>
<circle cx="405.5" cy="132.5" r="12.9" stroke="#7c7c7c" stroke-width="1.05" fill="#fff"/>
<text x="405.5" y="136.2" text-anchor="middle" font-size="10.6" fill="#4a4a4a" stroke="#4a4a4a" stroke-width="0.25">11</text>
<circle cx="405.5" cy="160.3" r="12.9" stroke="#7c7c7c" stroke-width="1.05" fill="#fff"/>
<text x="405.5" y="164.0" text-anchor="middle" font-size="10.6" fill="#4a4a4a" stroke="#4a4a4a" stroke-width="0.25">12</text>
<circle cx="405.5" cy="187.2" r="12.9" stroke="#7c7c7c" stroke-width="1.05" fill="#fff"/>
<text x="405.5" y="190.9" text-anchor="middle" font-size="10.6" fill="#4a4a4a" stroke="#4a4a4a" stroke-width="0.25">13</text>
<circle cx="405.5" cy="214.2" r="12.9" stroke="#7c7c7c" stroke-width="1.05" fill="#fff"/>
<text x="405.5" y="217.9" text-anchor="middle" font-size="10.6" fill="#4a4a4a" stroke="#4a4a4a" stroke-width="0.25">14</text>
<circle cx="405.5" cy="241.5" r="12.9" stroke="#7c7c7c" stroke-width="1.05" fill="#fff"/>
<text x="405.5" y="245.2" text-anchor="middle" font-size="10.6" fill="#4a4a4a" stroke="#4a4a4a" stroke-width="0.25">15</text>
<circle cx="405.5" cy="269.0" r="12.9" stroke="#7c7c7c" stroke-width="1.05" fill="#fff"/>
<text x="405.5" y="272.7" text-anchor="middle" font-size="10.6" fill="#4a4a4a" stroke="#4a4a4a" stroke-width="0.25">16</text>
<circle cx="405.5" cy="297.6" r="12.9" stroke="#7c7c7c" stroke-width="1.05" fill="#fff"/>
<text x="405.5" y="301.3" text-anchor="middle" font-size="10.6" fill="#4a4a4a" stroke="#4a4a4a" stroke-width="0.25">17</text>
<circle cx="406.0" cy="326.0" r="12.9" stroke="#7c7c7c" stroke-width="1.05" fill="#fff"/>
<text x="406.0" y="329.7" text-anchor="middle" font-size="10.6" fill="#4a4a4a" stroke="#4a4a4a" stroke-width="0.25">18</text>
<circle cx="406.0" cy="353.3" r="12.9" stroke="#7c7c7c" stroke-width="1.05" fill="#fff"/>
<text x="406.0" y="357.0" text-anchor="middle" font-size="10.6" fill="#4a4a4a" stroke="#4a4a4a" stroke-width="0.25">19</text>
<circle cx="406.0" cy="381.0" r="12.9" stroke="#7c7c7c" stroke-width="1.05" fill="#fff"/>
<text x="406.0" y="384.7" text-anchor="middle" font-size="10.6" fill="#4a4a4a" stroke="#4a4a4a" stroke-width="0.25">20</text>
<circle cx="406.0" cy="408.0" r="12.9" stroke="#7c7c7c" stroke-width="1.05" fill="#fff"/>
<text x="406.0" y="411.7" text-anchor="middle" font-size="10.6" fill="#4a4a4a" stroke="#4a4a4a" stroke-width="0.25">21</text>
<circle cx="406.0" cy="435.3" r="12.9" stroke="#7c7c7c" stroke-width="1.05" fill="#fff"/>
<text x="406.0" y="439.0" text-anchor="middle" font-size="10.6" fill="#4a4a4a" stroke="#4a4a4a" stroke-width="0.25">22</text>
<circle cx="406.0" cy="463.6" r="12.9" stroke="#7c7c7c" stroke-width="1.05" fill="#fff"/>
<text x="406.0" y="467.3" text-anchor="middle" font-size="10.6" fill="#4a4a4a" stroke="#4a4a4a" stroke-width="0.25">23</text>
<circle cx="407.0" cy="502.7" r="12.9" stroke="#7c7c7c" stroke-width="1.05" fill="#fff"/>
<text x="407.0" y="506.4" text-anchor="middle" font-size="10.6" fill="#4a4a4a" stroke="#4a4a4a" stroke-width="0.25">24</text>
<circle cx="407.2" cy="546.3" r="12.9" stroke="#7c7c7c" stroke-width="1.05" fill="#fff"/>
<text x="407.2" y="550.0" text-anchor="middle" font-size="10.6" fill="#4a4a4a" stroke="#4a4a4a" stroke-width="0.25">28</text>
<circle cx="275.4" cy="431.0" r="12.9" stroke="#7c7c7c" stroke-width="1.05" fill="#fff"/>
<text x="275.4" y="434.7" text-anchor="middle" font-size="10.6" fill="#4a4a4a" stroke="#4a4a4a" stroke-width="0.25">25</text>
<circle cx="275.4" cy="458.5" r="12.9" stroke="#7c7c7c" stroke-width="1.05" fill="#fff"/>
<text x="275.4" y="462.2" text-anchor="middle" font-size="10.6" fill="#4a4a4a" stroke="#4a4a4a" stroke-width="0.25">26</text>
<circle cx="275.4" cy="485.8" r="12.9" stroke="#7c7c7c" stroke-width="1.05" fill="#fff"/>
<text x="275.4" y="489.5" text-anchor="middle" font-size="10.6" fill="#4a4a4a" stroke="#4a4a4a" stroke-width="0.25">27</text>
<circle cx="201.4" cy="543.6" r="12.9" stroke="#7c7c7c" stroke-width="1.05" fill="#fff"/>
<text x="201.4" y="547.3" text-anchor="middle" font-size="10.6" fill="#4a4a4a" stroke="#4a4a4a" stroke-width="0.25">29</text>
<circle cx="176.7" cy="555.6" r="12.9" stroke="#7c7c7c" stroke-width="1.05" fill="#fff"/>
<text x="176.7" y="559.3" text-anchor="middle" font-size="10.6" fill="#4a4a4a" stroke="#4a4a4a" stroke-width="0.25">30</text>
<circle cx="144.7" cy="571.2" r="12.9" stroke="#7c7c7c" stroke-width="1.05" fill="#fff"/>
<text x="144.7" y="574.9" text-anchor="middle" font-size="10.6" fill="#4a4a4a" stroke="#4a4a4a" stroke-width="0.25">31</text>
<circle cx="118.3" cy="584.0" r="12.9" stroke="#7c7c7c" stroke-width="1.05" fill="#fff"/>
<text x="118.3" y="587.7" text-anchor="middle" font-size="10.6" fill="#4a4a4a" stroke="#4a4a4a" stroke-width="0.25">32</text>
<circle cx="88.1" cy="599.1" r="12.9" stroke="#7c7c7c" stroke-width="1.05" fill="#fff"/>
<text x="88.1" y="602.8" text-anchor="middle" font-size="10.6" fill="#4a4a4a" stroke="#4a4a4a" stroke-width="0.25">33</text></svg>
<div style="position:absolute;left:57.3px;top:242.86px;line-height:15.28px;font-size:13.3px;font-style:italic;color:#262626;white-space:nowrap;filter:blur(0.25px)">20Nm</div><div style="position:absolute;left:7.2px;top:611.16px;line-height:15.28px;font-size:13.3px;font-style:italic;color:#262626;white-space:nowrap;filter:blur(0.25px)">275Nm</div><div style="position:absolute;left:424.8px;top:510.93px;line-height:14.82px;font-size:12.9px;font-style:italic;color:#262626;white-space:nowrap;filter:blur(0.25px)">12Nm</div>
<svg width="830" height="880" style="position:absolute;left:0;top:0"><rect x="480" y="32.3" width="343.50" height="22.70" fill="#4472c4"/><rect x="480" y="55.00" width="343.50" height="22.73" fill="#d9e1f2"/><rect x="480" y="100.46" width="343.50" height="22.73" fill="#d9e1f2"/><rect x="480" y="145.92" width="343.50" height="22.73" fill="#d9e1f2"/><rect x="480" y="191.38" width="343.50" height="22.73" fill="#d9e1f2"/><rect x="480" y="236.84" width="343.50" height="22.73" fill="#d9e1f2"/><rect x="480" y="282.30" width="343.50" height="22.73" fill="#d9e1f2"/><rect x="480" y="327.76" width="343.50" height="22.73" fill="#d9e1f2"/><rect x="480" y="373.22" width="343.50" height="22.73" fill="#d9e1f2"/><rect x="480" y="418.68" width="343.50" height="22.73" fill="#d9e1f2"/><rect x="480" y="464.14" width="343.50" height="22.73" fill="#d9e1f2"/><rect x="480" y="509.60" width="343.50" height="22.73" fill="#d9e1f2"/><rect x="480" y="555.06" width="343.50" height="22.73" fill="#d9e1f2"/><rect x="480" y="600.52" width="343.50" height="22.73" fill="#d9e1f2"/><rect x="480" y="645.98" width="343.50" height="22.73" fill="#d9e1f2"/><rect x="480" y="691.44" width="343.50" height="22.73" fill="#d9e1f2"/><rect x="480" y="736.90" width="343.50" height="22.73" fill="#d9e1f2"/><rect x="480" y="782.36" width="343.50" height="22.73" fill="#d9e1f2"/><line x1="480" y1="77.73" x2="823.5" y2="77.73" stroke="#b4c6e7" stroke-width="1.3"/><line x1="480" y1="100.46" x2="823.5" y2="100.46" stroke="#b4c6e7" stroke-width="1.3"/><line x1="480" y1="123.19" x2="823.5" y2="123.19" stroke="#b4c6e7" stroke-width="1.3"/><line x1="480" y1="145.92" x2="823.5" y2="145.92" stroke="#b4c6e7" stroke-width="1.3"/><line x1="480" y1="168.65" x2="823.5" y2="168.65" stroke="#b4c6e7" stroke-width="1.3"/><line x1="480" y1="191.38" x2="823.5" y2="191.38" stroke="#b4c6e7" stroke-width="1.3"/><line x1="480" y1="214.11" x2="823.5" y2="214.11" stroke="#b4c6e7" stroke-width="1.3"/><line x1="480" y1="236.84" x2="823.5" y2="236.84" stroke="#b4c6e7" stroke-width="1.3"/><line x1="480" y1="259.57" x2="823.5" y2="259.57" stroke="#b4c6e7" stroke-width="1.3"/><line x1="480" y1="282.30" x2="823.5" y2="282.30" stroke="#b4c6e7" stroke-width="1.3"/><line x1="480" y1="305.03" x2="823.5" y2="305.03" stroke="#b4c6e7" stroke-width="1.3"/><line x1="480" y1="327.76" x2="823.5" y2="327.76" stroke="#b4c6e7" stroke-width="1.3"/><line x1="480" y1="350.49" x2="823.5" y2="350.49" stroke="#b4c6e7" stroke-width="1.3"/><line x1="480" y1="373.22" x2="823.5" y2="373.22" stroke="#b4c6e7" stroke-width="1.3"/><line x1="480" y1="395.95" x2="823.5" y2="395.95" stroke="#b4c6e7" stroke-width="1.3"/><line x1="480" y1="418.68" x2="823.5" y2="418.68" stroke="#b4c6e7" stroke-width="1.3"/><line x1="480" y1="441.41" x2="823.5" y2="441.41" stroke="#b4c6e7" stroke-width="1.3"/><line x1="480" y1="464.14" x2="823.5" y2="464.14" stroke="#b4c6e7" stroke-width="1.3"/><line x1="480" y1="486.87" x2="823.5" y2="486.87" stroke="#b4c6e7" stroke-width="1.3"/><line x1="480" y1="509.60" x2="823.5" y2="509.60" stroke="#b4c6e7" stroke-width="1.3"/><line x1="480" y1="532.33" x2="823.5" y2="532.33" stroke="#b4c6e7" stroke-width="1.3"/><line x1="480" y1="555.06" x2="823.5" y2="555.06" stroke="#b4c6e7" stroke-width="1.3"/><line x1="480" y1="577.79" x2="823.5" y2="577.79" stroke="#b4c6e7" stroke-width="1.3"/><line x1="480" y1="600.52" x2="823.5" y2="600.52" stroke="#b4c6e7" stroke-width="1.3"/><line x1="480" y1="623.25" x2="823.5" y2="623.25" stroke="#b4c6e7" stroke-width="1.3"/><line x1="480" y1="645.98" x2="823.5" y2="645.98" stroke="#b4c6e7" stroke-width="1.3"/><line x1="480" y1="668.71" x2="823.5" y2="668.71" stroke="#b4c6e7" stroke-width="1.3"/><line x1="480" y1="691.44" x2="823.5" y2="691.44" stroke="#b4c6e7" stroke-width="1.3"/><line x1="480" y1="714.17" x2="823.5" y2="714.17" stroke="#b4c6e7" stroke-width="1.3"/><line x1="480" y1="736.90" x2="823.5" y2="736.90" stroke="#b4c6e7" stroke-width="1.3"/><line x1="480" y1="759.63" x2="823.5" y2="759.63" stroke="#b4c6e7" stroke-width="1.3"/><line x1="480" y1="782.36" x2="823.5" y2="782.36" stroke="#b4c6e7" stroke-width="1.3"/><line x1="480" y1="805.09" x2="823.5" y2="805.09" stroke="#b4c6e7" stroke-width="1.3"/><line x1="480.65" y1="55.0" x2="480.65" y2="805.09" stroke="#b4c6e7" stroke-width="1.3"/><line x1="520.40" y1="55.0" x2="520.40" y2="805.09" stroke="#b4c6e7" stroke-width="1.3"/><line x1="605.10" y1="55.0" x2="605.10" y2="805.09" stroke="#b4c6e7" stroke-width="1.3"/><line x1="768.40" y1="55.0" x2="768.40" y2="805.09" stroke="#b4c6e7" stroke-width="1.3"/><line x1="822.85" y1="55.0" x2="822.85" y2="805.09" stroke="#b4c6e7" stroke-width="1.3"/><line x1="520.40" y1="32.3" x2="520.40" y2="55.0" stroke="#7f9fd8" stroke-width="1"/><line x1="768.40" y1="32.3" x2="768.40" y2="55.0" stroke="#7f9fd8" stroke-width="1"/><rect x="479.5" y="815.6" width="342.80" height="19.70" fill="#4472c4"/><line x1="539.30" y1="815.6" x2="539.30" y2="835.3" stroke="#7f9fd8" stroke-width="1"/><line x1="581.70" y1="815.6" x2="581.70" y2="835.3" stroke="#7f9fd8" stroke-width="1"/><line x1="728.30" y1="815.6" x2="728.30" y2="835.3" stroke="#7f9fd8" stroke-width="1"/><line x1="480.15" y1="835.3" x2="480.15" y2="872.4" stroke="#b4c6e7" stroke-width="1.3"/><line x1="539.30" y1="835.3" x2="539.30" y2="872.4" stroke="#b4c6e7" stroke-width="1.3"/><line x1="581.70" y1="835.3" x2="581.70" y2="872.4" stroke="#b4c6e7" stroke-width="1.3"/><line x1="728.30" y1="835.3" x2="728.30" y2="872.4" stroke="#b4c6e7" stroke-width="1.3"/><line x1="821.65" y1="835.3" x2="821.65" y2="872.4" stroke="#b4c6e7" stroke-width="1.3"/><line x1="479.5" y1="871.75" x2="822.3" y2="871.75" stroke="#b4c6e7" stroke-width="1.3"/></svg>
<div style="position:absolute;left:440.20px;width:120px;top:36.22px;line-height:16.10px;font-size:14px;font-weight:bold;color:#fff;text-align:center;white-space:nowrap;"><span style="display:inline-block;transform:scaleX(0.89);transform-origin:center 50%">Pos</span></div>
<div style="position:absolute;left:528.20px;top:36.22px;line-height:16.10px;font-size:14px;font-weight:bold;color:#fff;white-space:nowrap;word-spacing:1.2px"><span style="display:inline-block;transform:scaleX(0.97);transform-origin:left 50%">Teile - Nr.</span></div>
<div style="position:absolute;left:613.10px;top:36.22px;line-height:16.10px;font-size:14px;font-weight:bold;color:#fff;white-space:nowrap;"><span style="display:inline-block;transform:scaleX(0.984);transform-origin:left 50%">Benennung</span></div>
<div style="position:absolute;left:735.95px;width:120px;top:36.22px;line-height:16.10px;font-size:14px;font-weight:bold;color:#fff;text-align:center;white-space:nowrap;"><span style="display:inline-block;transform:scaleX(0.947);transform-origin:center 50%">Stück</span></div>
<div style="position:absolute;left:440.20px;width:120px;top:58.92px;line-height:16.10px;font-size:14px;font-weight:normal;color:#111;text-align:center;white-space:nowrap;"><span style="display:inline-block;transform:scaleX(0.942);transform-origin:center 50%">1</span></div>
<div style="position:absolute;left:528.20px;top:58.92px;line-height:16.10px;font-size:14px;font-weight:normal;color:#111;white-space:nowrap;"><span style="display:inline-block;transform:scaleX(0.942);transform-origin:left 50%">36.3413.02</span></div>
<div style="position:absolute;left:613.10px;top:58.92px;line-height:16.10px;font-size:14px;font-weight:normal;color:#111;white-space:nowrap;"><span style="display:inline-block;transform:scaleX(0.942);transform-origin:left 50%">Handrad</span></div>
<div style="position:absolute;left:735.95px;width:120px;top:58.92px;line-height:16.10px;font-size:14px;font-weight:normal;color:#111;text-align:center;white-space:nowrap;"><span style="display:inline-block;transform:scaleX(0.942);transform-origin:center 50%">1</span></div>
<div style="position:absolute;left:440.20px;width:120px;top:81.65px;line-height:16.10px;font-size:14px;font-weight:normal;color:#111;text-align:center;white-space:nowrap;"><span style="display:inline-block;transform:scaleX(0.942);transform-origin:center 50%">2</span></div>
<div style="position:absolute;left:528.20px;top:81.65px;line-height:16.10px;font-size:14px;font-weight:normal;color:#111;white-space:nowrap;"><span style="display:inline-block;transform:scaleX(0.942);transform-origin:left 50%">97.6667.00</span></div>
<div style="position:absolute;left:613.10px;top:81.65px;line-height:16.10px;font-size:14px;font-weight:normal;color:#111;white-space:nowrap;"><span style="display:inline-block;transform:scaleX(0.942);transform-origin:left 50%">Hohlspannstift</span></div>
<div style="position:absolute;left:735.95px;width:120px;top:81.65px;line-height:16.10px;font-size:14px;font-weight:normal;color:#111;text-align:center;white-space:nowrap;"><span style="display:inline-block;transform:scaleX(0.942);transform-origin:center 50%">1</span></div>
<div style="position:absolute;left:440.20px;width:120px;top:104.38px;line-height:16.10px;font-size:14px;font-weight:normal;color:#111;text-align:center;white-space:nowrap;"><span style="display:inline-block;transform:scaleX(0.942);transform-origin:center 50%">3</span></div>
<div style="position:absolute;left:528.20px;top:104.38px;line-height:16.10px;font-size:14px;font-weight:normal;color:#111;white-space:nowrap;"><span style="display:inline-block;transform:scaleX(0.942);transform-origin:left 50%">92.2567.00</span></div>
<div style="position:absolute;left:613.10px;top:104.38px;line-height:16.10px;font-size:14px;font-weight:normal;color:#111;white-space:nowrap;"><span style="display:inline-block;transform:scaleX(0.942);transform-origin:left 50%">Sechskantmutter</span></div>
<div style="position:absolute;left:735.95px;width:120px;top:104.38px;line-height:16.10px;font-size:14px;font-weight:normal;color:#111;text-align:center;white-space:nowrap;"><span style="display:inline-block;transform:scaleX(0.942);transform-origin:center 50%">2</span></div>
<div style="position:absolute;left:440.20px;width:120px;top:127.11px;line-height:16.10px;font-size:14px;font-weight:normal;color:#111;text-align:center;white-space:nowrap;"><span style="display:inline-block;transform:scaleX(0.942);transform-origin:center 50%">4</span></div>
<div style="position:absolute;left:528.20px;top:127.11px;line-height:16.10px;font-size:14px;font-weight:normal;color:#111;white-space:nowrap;"><span style="display:inline-block;transform:scaleX(0.942);transform-origin:left 50%">99.3084.00</span></div>
<div style="position:absolute;left:613.10px;top:127.11px;line-height:16.10px;font-size:14px;font-weight:normal;color:#111;white-space:nowrap;"><span style="display:inline-block;transform:scaleX(0.942);transform-origin:left 50%">Innensechskantschraube</span></div>
<div style="position:absolute;left:735.95px;width:120px;top:127.11px;line-height:16.10px;font-size:14px;font-weight:normal;color:#111;text-align:center;white-space:nowrap;"><span style="display:inline-block;transform:scaleX(0.942);transform-origin:center 50%">4</span></div>
<div style="position:absolute;left:440.20px;width:120px;top:149.84px;line-height:16.10px;font-size:14px;font-weight:normal;color:#111;text-align:center;white-space:nowrap;"><span style="display:inline-block;transform:scaleX(0.942);transform-origin:center 50%">5</span></div>
<div style="position:absolute;left:528.20px;top:149.84px;line-height:16.10px;font-size:14px;font-weight:normal;color:#111;white-space:nowrap;"><span style="display:inline-block;transform:scaleX(0.942);transform-origin:left 50%">36.3409.41</span></div>
<div style="position:absolute;left:613.10px;top:149.84px;line-height:16.10px;font-size:14px;font-weight:normal;color:#111;white-space:nowrap;"><span style="display:inline-block;transform:scaleX(0.942);transform-origin:left 50%">Gehäuseoberteil RA2</span></div>
<div style="position:absolute;left:735.95px;width:120px;top:149.84px;line-height:16.10px;font-size:14px;font-weight:normal;color:#111;text-align:center;white-space:nowrap;"><span style="display:inline-block;transform:scaleX(0.942);transform-origin:center 50%">1</span></div>
<div style="position:absolute;left:440.20px;width:120px;top:172.57px;line-height:16.10px;font-size:14px;font-weight:normal;color:#111;text-align:center;white-space:nowrap;"><span style="display:inline-block;transform:scaleX(0.942);transform-origin:center 50%">6</span></div>
<div style="position:absolute;left:528.20px;top:172.57px;line-height:16.10px;font-size:14px;font-weight:normal;color:#111;white-space:nowrap;"><span style="display:inline-block;transform:scaleX(0.942);transform-origin:left 50%">36.3389.64</span></div>
<div style="position:absolute;left:613.10px;top:172.57px;line-height:16.10px;font-size:14px;font-weight:normal;color:#111;white-space:nowrap;"><span style="display:inline-block;transform:scaleX(0.942);transform-origin:left 50%">Druckhülse</span></div>
<div style="position:absolute;left:735.95px;width:120px;top:172.57px;line-height:16.10px;font-size:14px;font-weight:normal;color:#111;text-align:center;white-space:nowrap;"><span style="display:inline-block;transform:scaleX(0.942);transform-origin:center 50%">1</span></div>
<div style="position:absolute;left:440.20px;width:120px;top:195.30px;line-height:16.10px;font-size:14px;font-weight:normal;color:#111;text-align:center;white-space:nowrap;"><span style="display:inline-block;transform:scaleX(0.942);transform-origin:center 50%">7</span></div>
<div style="position:absolute;left:528.20px;top:195.30px;line-height:16.10px;font-size:14px;font-weight:normal;color:#111;white-space:nowrap;"><span style="display:inline-block;transform:scaleX(0.942);transform-origin:left 50%">94.8470.00</span></div>
<div style="position:absolute;left:613.10px;top:195.30px;line-height:16.10px;font-size:14px;font-weight:normal;color:#111;white-space:nowrap;"><span style="display:inline-block;transform:scaleX(0.942);transform-origin:left 50%">Tellerfeder</span></div>
<div style="position:absolute;left:735.95px;width:120px;top:195.30px;line-height:16.10px;font-size:14px;font-weight:normal;color:#111;text-align:center;white-space:nowrap;"><span style="display:inline-block;transform:scaleX(0.942);transform-origin:center 50%">28</span></div>
<div style="position:absolute;left:440.20px;width:120px;top:218.03px;line-height:16.10px;font-size:14px;font-weight:normal;color:#111;text-align:center;white-space:nowrap;"><span style="display:inline-block;transform:scaleX(0.942);transform-origin:center 50%">8</span></div>
<div style="position:absolute;left:528.20px;top:218.03px;line-height:16.10px;font-size:14px;font-weight:normal;color:#111;white-space:nowrap;"><span style="display:inline-block;transform:scaleX(0.942);transform-origin:left 50%">36.3390.66</span></div>
<div style="position:absolute;left:613.10px;top:218.03px;line-height:16.10px;font-size:14px;font-weight:normal;color:#111;white-space:nowrap;"><span style="display:inline-block;transform:scaleX(0.942);transform-origin:left 50%">Federführung</span></div>
<div style="position:absolute;left:735.95px;width:120px;top:218.03px;line-height:16.10px;font-size:14px;font-weight:normal;color:#111;text-align:center;white-space:nowrap;"><span style="display:inline-block;transform:scaleX(0.942);transform-origin:center 50%">1</span></div>
<div style="position:absolute;left:440.20px;width:120px;top:240.76px;line-height:16.10px;font-size:14px;font-weight:normal;color:#111;text-align:center;white-space:nowrap;"><span style="display:inline-block;transform:scaleX(0.942);transform-origin:center 50%">9</span></div>
<div style="position:absolute;left:528.20px;top:240.76px;line-height:16.10px;font-size:14px;font-weight:normal;color:#111;white-space:nowrap;"><span style="display:inline-block;transform:scaleX(0.942);transform-origin:left 50%">36.3411.82</span></div>
<div style="position:absolute;left:613.10px;top:240.76px;line-height:16.10px;font-size:14px;font-weight:normal;color:#111;white-space:nowrap;"><span style="display:inline-block;transform:scaleX(0.942);transform-origin:left 50%">Buchse</span></div>
<div style="position:absolute;left:735.95px;width:120px;top:240.76px;line-height:16.10px;font-size:14px;font-weight:normal;color:#111;text-align:center;white-space:nowrap;"><span style="display:inline-block;transform:scaleX(0.942);transform-origin:center 50%">1</span></div>
<div style="position:absolute;left:440.20px;width:120px;top:263.49px;line-height:16.10px;font-size:14px;font-weight:normal;color:#111;text-align:center;white-space:nowrap;"><span style="display:inline-block;transform:scaleX(0.942);transform-origin:center 50%">10</span></div>
<div style="position:absolute;left:528.20px;top:263.49px;line-height:16.10px;font-size:14px;font-weight:normal;color:#111;white-space:nowrap;"><span style="display:inline-block;transform:scaleX(0.942);transform-origin:left 50%">36.3410.64</span></div>
<div style="position:absolute;left:613.10px;top:263.49px;line-height:16.10px;font-size:14px;font-weight:normal;color:#111;white-space:nowrap;"><span style="display:inline-block;transform:scaleX(0.942);transform-origin:left 50%">Distanzbuchse</span></div>
<div style="position:absolute;left:735.95px;width:120px;top:263.49px;line-height:16.10px;font-size:14px;font-weight:normal;color:#111;text-align:center;white-space:nowrap;"><span style="display:inline-block;transform:scaleX(0.942);transform-origin:center 50%">1</span></div>
<div style="position:absolute;left:440.20px;width:120px;top:286.22px;line-height:16.10px;font-size:14px;font-weight:normal;color:#111;text-align:center;white-space:nowrap;"><span style="display:inline-block;transform:scaleX(0.942);transform-origin:center 50%">11</span></div>
<div style="position:absolute;left:528.20px;top:286.22px;line-height:16.10px;font-size:14px;font-weight:normal;color:#111;white-space:nowrap;"><span style="display:inline-block;transform:scaleX(0.942);transform-origin:left 50%">36.3977.70</span></div>
<div style="position:absolute;left:613.10px;top:286.22px;line-height:16.10px;font-size:14px;font-weight:normal;color:#111;white-space:nowrap;"><span style="display:inline-block;transform:scaleX(0.942);transform-origin:left 50%">Buchse</span></div>
<div style="position:absolute;left:735.95px;width:120px;top:286.22px;line-height:16.10px;font-size:14px;font-weight:normal;color:#111;text-align:center;white-space:nowrap;"><span style="display:inline-block;transform:scaleX(0.942);transform-origin:center 50%">1</span></div>
<div style="position:absolute;left:440.20px;width:120px;top:308.95px;line-height:16.10px;font-size:14px;font-weight:normal;color:#ff0000;text-align:center;white-space:nowrap;"><span style="display:inline-block;transform:scaleX(0.942);transform-origin:center 50%">12</span></div>
<div style="position:absolute;left:528.20px;top:308.95px;line-height:16.10px;font-size:14px;font-weight:normal;color:#111;white-space:nowrap;"><span style="display:inline-block;transform:scaleX(0.942);transform-origin:left 50%">90.5200.00</span></div>
<div style="position:absolute;left:613.10px;top:308.95px;line-height:16.10px;font-size:14px;font-weight:normal;color:#111;white-space:nowrap;"><span style="display:inline-block;transform:scaleX(0.942);transform-origin:left 50%">Stützring</span></div>
<div style="position:absolute;left:735.95px;width:120px;top:308.95px;line-height:16.10px;font-size:14px;font-weight:normal;color:#111;text-align:center;white-space:nowrap;"><span style="display:inline-block;transform:scaleX(0.942);transform-origin:center 50%">1</span></div>
<div style="position:absolute;left:440.20px;width:120px;top:331.68px;line-height:16.10px;font-size:14px;font-weight:normal;color:#ff0000;text-align:center;white-space:nowrap;"><span style="display:inline-block;transform:scaleX(0.942);transform-origin:center 50%">13</span></div>
<div style="position:absolute;left:528.20px;top:331.68px;line-height:16.10px;font-size:14px;font-weight:normal;color:#111;white-space:nowrap;"><span style="display:inline-block;transform:scaleX(0.942);transform-origin:left 50%">90.3871.00</span></div>
<div style="position:absolute;left:613.10px;top:331.68px;line-height:16.10px;font-size:14px;font-weight:normal;color:#111;white-space:nowrap;word-spacing:-0.6px"><span style="display:inline-block;transform:scaleX(0.9);transform-origin:left 50%">O - Ring</span></div>
<div style="position:absolute;left:735.95px;width:120px;top:331.68px;line-height:16.10px;font-size:14px;font-weight:normal;color:#111;text-align:center;white-space:nowrap;"><span style="display:inline-block;transform:scaleX(0.942);transform-origin:center 50%">1</span></div>
<div style="position:absolute;left:440.20px;width:120px;top:354.41px;line-height:16.10px;font-size:14px;font-weight:normal;color:#111;text-align:center;white-space:nowrap;"><span style="display:inline-block;transform:scaleX(0.942);transform-origin:center 50%">14</span></div>
<div style="position:absolute;left:528.20px;top:354.41px;line-height:16.10px;font-size:14px;font-weight:normal;color:#111;white-space:nowrap;"><span style="display:inline-block;transform:scaleX(0.942);transform-origin:left 50%">36.3398.70</span></div>
<div style="position:absolute;left:613.10px;top:354.41px;line-height:16.10px;font-size:14px;font-weight:normal;color:#111;white-space:nowrap;"><span style="display:inline-block;transform:scaleX(0.942);transform-origin:left 50%">Führungsring</span></div>
<div style="position:absolute;left:735.95px;width:120px;top:354.41px;line-height:16.10px;font-size:14px;font-weight:normal;color:#111;text-align:center;white-space:nowrap;"><span style="display:inline-block;transform:scaleX(0.942);transform-origin:center 50%">1</span></div>
<div style="position:absolute;left:440.20px;width:120px;top:377.14px;line-height:16.10px;font-size:14px;font-weight:normal;color:#ff0000;text-align:center;white-space:nowrap;"><span style="display:inline-block;transform:scaleX(0.942);transform-origin:center 50%">15</span></div>
<div style="position:absolute;left:528.20px;top:377.14px;line-height:16.10px;font-size:14px;font-weight:normal;color:#111;white-space:nowrap;"><span style="display:inline-block;transform:scaleX(0.942);transform-origin:left 50%">90.2714.00</span></div>
<div style="position:absolute;left:613.10px;top:377.14px;line-height:16.10px;font-size:14px;font-weight:normal;color:#111;white-space:nowrap;"><span style="display:inline-block;transform:scaleX(0.942);transform-origin:left 50%">Dichtring</span></div>
<div style="position:absolute;left:735.95px;width:120px;top:377.14px;line-height:16.10px;font-size:14px;font-weight:normal;color:#111;text-align:center;white-space:nowrap;"><span style="display:inline-block;transform:scaleX(0.942);transform-origin:center 50%">1</span></div>
<div style="position:absolute;left:440.20px;width:120px;top:399.87px;line-height:16.10px;font-size:14px;font-weight:normal;color:#111;text-align:center;white-space:nowrap;"><span style="display:inline-block;transform:scaleX(0.942);transform-origin:center 50%">16</span></div>
<div style="position:absolute;left:528.20px;top:399.87px;line-height:16.10px;font-size:14px;font-weight:normal;color:#111;white-space:nowrap;"><span style="display:inline-block;transform:scaleX(0.942);transform-origin:left 50%">36.3393.66</span></div>
<div style="position:absolute;left:613.10px;top:399.87px;line-height:16.10px;font-size:14px;font-weight:normal;color:#111;white-space:nowrap;"><span style="display:inline-block;transform:scaleX(0.942);transform-origin:left 50%">Hauptkolben</span></div>
<div style="position:absolute;left:735.95px;width:120px;top:399.87px;line-height:16.10px;font-size:14px;font-weight:normal;color:#111;text-align:center;white-space:nowrap;"><span style="display:inline-block;transform:scaleX(0.942);transform-origin:center 50%">1</span></div>
<div style="position:absolute;left:440.20px;width:120px;top:422.60px;line-height:16.10px;font-size:14px;font-weight:normal;color:#111;text-align:center;white-space:nowrap;"><span style="display:inline-block;transform:scaleX(0.942);transform-origin:center 50%">17</span></div>
<div style="position:absolute;left:528.20px;top:422.60px;line-height:16.10px;font-size:14px;font-weight:normal;color:#111;white-space:nowrap;"><span style="display:inline-block;transform:scaleX(0.942);transform-origin:left 50%">36.3394.82</span></div>
<div style="position:absolute;left:613.10px;top:422.60px;line-height:16.10px;font-size:14px;font-weight:normal;color:#111;white-space:nowrap;"><span style="display:inline-block;transform:scaleX(0.942);transform-origin:left 50%">Distanzring</span></div>
<div style="position:absolute;left:735.95px;width:120px;top:422.60px;line-height:16.10px;font-size:14px;font-weight:normal;color:#111;text-align:center;white-space:nowrap;"><span style="display:inline-block;transform:scaleX(0.942);transform-origin:center 50%">1</span></div>
<div style="position:absolute;left:440.20px;width:120px;top:445.33px;line-height:16.10px;font-size:14px;font-weight:normal;color:#ff0000;text-align:center;white-space:nowrap;"><span style="display:inline-block;transform:scaleX(0.942);transform-origin:center 50%">18</span></div>
<div style="position:absolute;left:528.20px;top:445.33px;line-height:16.10px;font-size:14px;font-weight:normal;color:#111;white-space:nowrap;"><span style="display:inline-block;transform:scaleX(0.942);transform-origin:left 50%">90.2610.00</span></div>
<div style="position:absolute;left:613.10px;top:445.33px;line-height:16.10px;font-size:14px;font-weight:normal;color:#111;white-space:nowrap;"><span style="display:inline-block;transform:scaleX(0.942);transform-origin:left 50%">Dichtring</span></div>
<div style="position:absolute;left:735.95px;width:120px;top:445.33px;line-height:16.10px;font-size:14px;font-weight:normal;color:#111;text-align:center;white-space:nowrap;"><span style="display:inline-block;transform:scaleX(0.942);transform-origin:center 50%">1</span></div>
<div style="position:absolute;left:440.20px;width:120px;top:468.06px;line-height:16.10px;font-size:14px;font-weight:normal;color:#111;text-align:center;white-space:nowrap;"><span style="display:inline-block;transform:scaleX(0.942);transform-origin:center 50%">19</span></div>
<div style="position:absolute;left:528.20px;top:468.06px;line-height:16.10px;font-size:14px;font-weight:normal;color:#111;white-space:nowrap;"><span style="display:inline-block;transform:scaleX(0.942);transform-origin:left 50%">36.3399.70</span></div>
<div style="position:absolute;left:613.10px;top:468.06px;line-height:16.10px;font-size:14px;font-weight:normal;color:#111;white-space:nowrap;"><span style="display:inline-block;transform:scaleX(0.942);transform-origin:left 50%">Führungsring</span></div>
<div style="position:absolute;left:735.95px;width:120px;top:468.06px;line-height:16.10px;font-size:14px;font-weight:normal;color:#111;text-align:center;white-space:nowrap;"><span style="display:inline-block;transform:scaleX(0.942);transform-origin:center 50%">1</span></div>
<div style="position:absolute;left:440.20px;width:120px;top:490.79px;line-height:16.10px;font-size:14px;font-weight:normal;color:#ff0000;text-align:center;white-space:nowrap;"><span style="display:inline-block;transform:scaleX(0.942);transform-origin:center 50%">20</span></div>
<div style="position:absolute;left:528.20px;top:490.79px;line-height:16.10px;font-size:14px;font-weight:normal;color:#111;white-space:nowrap;"><span style="display:inline-block;transform:scaleX(0.942);transform-origin:left 50%">90.3865.00</span></div>
<div style="position:absolute;left:613.10px;top:490.79px;line-height:16.10px;font-size:14px;font-weight:normal;color:#111;white-space:nowrap;word-spacing:-0.6px"><span style="display:inline-block;transform:scaleX(0.9);transform-origin:left 50%">O - Ring</span></div>
<div style="position:absolute;left:735.95px;width:120px;top:490.79px;line-height:16.10px;font-size:14px;font-weight:normal;color:#111;text-align:center;white-space:nowrap;"><span style="display:inline-block;transform:scaleX(0.942);transform-origin:center 50%">1</span></div>
<div style="position:absolute;left:440.20px;width:120px;top:513.52px;line-height:16.10px;font-size:14px;font-weight:normal;color:#ff0000;text-align:center;white-space:nowrap;"><span style="display:inline-block;transform:scaleX(0.942);transform-origin:center 50%">21</span></div>
<div style="position:absolute;left:528.20px;top:513.52px;line-height:16.10px;font-size:14px;font-weight:normal;color:#111;white-space:nowrap;"><span style="display:inline-block;transform:scaleX(0.942);transform-origin:left 50%">90.5177.50</span></div>
<div style="position:absolute;left:613.10px;top:513.52px;line-height:16.10px;font-size:14px;font-weight:normal;color:#111;white-space:nowrap;"><span style="display:inline-block;transform:scaleX(0.942);transform-origin:left 50%">Stützring</span></div>
<div style="position:absolute;left:735.95px;width:120px;top:513.52px;line-height:16.10px;font-size:14px;font-weight:normal;color:#111;text-align:center;white-space:nowrap;"><span style="display:inline-block;transform:scaleX(0.942);transform-origin:center 50%">1</span></div>
<div style="position:absolute;left:440.20px;width:120px;top:536.25px;line-height:16.10px;font-size:14px;font-weight:normal;color:#111;text-align:center;white-space:nowrap;"><span style="display:inline-block;transform:scaleX(0.942);transform-origin:center 50%">22</span></div>
<div style="position:absolute;left:528.20px;top:536.25px;line-height:16.10px;font-size:14px;font-weight:normal;color:#111;white-space:nowrap;"><span style="display:inline-block;transform:scaleX(0.942);transform-origin:left 50%">36.3400.70</span></div>
<div style="position:absolute;left:613.10px;top:536.25px;line-height:16.10px;font-size:14px;font-weight:normal;color:#111;white-space:nowrap;"><span style="display:inline-block;transform:scaleX(0.942);transform-origin:left 50%">Buchse</span></div>
<div style="position:absolute;left:735.95px;width:120px;top:536.25px;line-height:16.10px;font-size:14px;font-weight:normal;color:#111;text-align:center;white-space:nowrap;"><span style="display:inline-block;transform:scaleX(0.942);transform-origin:center 50%">1</span></div>
<div style="position:absolute;left:440.20px;width:120px;top:558.98px;line-height:16.10px;font-size:14px;font-weight:normal;color:#ff0000;text-align:center;white-space:nowrap;"><span style="display:inline-block;transform:scaleX(0.942);transform-origin:center 50%">23</span></div>
<div style="position:absolute;left:528.20px;top:558.98px;line-height:16.10px;font-size:14px;font-weight:normal;color:#111;white-space:nowrap;"><span style="display:inline-block;transform:scaleX(0.942);transform-origin:left 50%">90.3589.00</span></div>
<div style="position:absolute;left:613.10px;top:558.98px;line-height:16.10px;font-size:14px;font-weight:normal;color:#111;white-space:nowrap;word-spacing:-0.6px"><span style="display:inline-block;transform:scaleX(0.9);transform-origin:left 50%">O - Ring</span></div>
<div style="position:absolute;left:735.95px;width:120px;top:558.98px;line-height:16.10px;font-size:14px;font-weight:normal;color:#111;text-align:center;white-space:nowrap;"><span style="display:inline-block;transform:scaleX(0.942);transform-origin:center 50%">1</span></div>
<div style="position:absolute;left:440.20px;width:120px;top:581.71px;line-height:16.10px;font-size:14px;font-weight:normal;color:#111;text-align:center;white-space:nowrap;"><span style="display:inline-block;transform:scaleX(0.942);transform-origin:center 50%">24</span></div>
<div style="position:absolute;left:528.20px;top:581.71px;line-height:16.10px;font-size:14px;font-weight:normal;color:#111;white-space:nowrap;"><span style="display:inline-block;transform:scaleX(0.942);transform-origin:left 50%">36.3395.66</span></div>
<div style="position:absolute;left:613.10px;top:581.71px;line-height:16.10px;font-size:14px;font-weight:normal;color:#111;white-space:nowrap;"><span style="display:inline-block;transform:scaleX(0.942);transform-origin:left 50%">Ventilkegel</span></div>
<div style="position:absolute;left:735.95px;width:120px;top:581.71px;line-height:16.10px;font-size:14px;font-weight:normal;color:#111;text-align:center;white-space:nowrap;"><span style="display:inline-block;transform:scaleX(0.942);transform-origin:center 50%">1</span></div>
<div style="position:absolute;left:440.20px;width:120px;top:604.44px;line-height:16.10px;font-size:14px;font-weight:normal;color:#ff0000;text-align:center;white-space:nowrap;"><span style="display:inline-block;transform:scaleX(0.942);transform-origin:center 50%">25</span></div>
<div style="position:absolute;left:528.20px;top:604.44px;line-height:16.10px;font-size:14px;font-weight:normal;color:#111;white-space:nowrap;"><span style="display:inline-block;transform:scaleX(0.942);transform-origin:left 50%">90.3852.00</span></div>
<div style="position:absolute;left:613.10px;top:604.44px;line-height:16.10px;font-size:14px;font-weight:normal;color:#111;white-space:nowrap;word-spacing:-0.6px"><span style="display:inline-block;transform:scaleX(0.9);transform-origin:left 50%">O - Ring</span></div>
<div style="position:absolute;left:735.95px;width:120px;top:604.44px;line-height:16.10px;font-size:14px;font-weight:normal;color:#111;text-align:center;white-space:nowrap;"><span style="display:inline-block;transform:scaleX(0.942);transform-origin:center 50%">1</span></div>
<div style="position:absolute;left:440.20px;width:120px;top:627.17px;line-height:16.10px;font-size:14px;font-weight:normal;color:#ff0000;text-align:center;white-space:nowrap;"><span style="display:inline-block;transform:scaleX(0.942);transform-origin:center 50%">26</span></div>
<div style="position:absolute;left:528.20px;top:627.17px;line-height:16.10px;font-size:14px;font-weight:normal;color:#111;white-space:nowrap;"><span style="display:inline-block;transform:scaleX(0.942);transform-origin:left 50%">90.5144.50</span></div>
<div style="position:absolute;left:613.10px;top:627.17px;line-height:16.10px;font-size:14px;font-weight:normal;color:#111;white-space:nowrap;"><span style="display:inline-block;transform:scaleX(0.942);transform-origin:left 50%">Stützring</span></div>
<div style="position:absolute;left:735.95px;width:120px;top:627.17px;line-height:16.10px;font-size:14px;font-weight:normal;color:#111;text-align:center;white-space:nowrap;"><span style="display:inline-block;transform:scaleX(0.942);transform-origin:center 50%">1</span></div>
<div style="position:absolute;left:440.20px;width:120px;top:649.90px;line-height:16.10px;font-size:14px;font-weight:normal;color:#ff0000;text-align:center;white-space:nowrap;"><span style="display:inline-block;transform:scaleX(0.942);transform-origin:center 50%">27</span></div>
<div style="position:absolute;left:528.20px;top:649.90px;line-height:16.10px;font-size:14px;font-weight:normal;color:#111;white-space:nowrap;"><span style="display:inline-block;transform:scaleX(0.942);transform-origin:left 50%">36.3401.66</span></div>
<div style="position:absolute;left:613.10px;top:649.90px;line-height:16.10px;font-size:14px;font-weight:normal;color:#111;white-space:nowrap;"><span style="display:inline-block;transform:scaleX(0.942);transform-origin:left 50%">Ventilsitz</span></div>
<div style="position:absolute;left:735.95px;width:120px;top:649.90px;line-height:16.10px;font-size:14px;font-weight:normal;color:#111;text-align:center;white-space:nowrap;"><span style="display:inline-block;transform:scaleX(0.942);transform-origin:center 50%">1</span></div>
<div style="position:absolute;left:440.20px;width:120px;top:672.63px;line-height:16.10px;font-size:14px;font-weight:normal;color:#111;text-align:center;white-space:nowrap;"><span style="display:inline-block;transform:scaleX(0.942);transform-origin:center 50%">28</span></div>
<div style="position:absolute;left:528.20px;top:672.63px;line-height:16.10px;font-size:14px;font-weight:normal;color:#111;white-space:nowrap;"><span style="display:inline-block;transform:scaleX(0.942);transform-origin:left 50%">36.3415.41</span></div>
<div style="position:absolute;left:613.10px;top:672.63px;line-height:16.10px;font-size:14px;font-weight:normal;color:#111;white-space:nowrap;"><span style="display:inline-block;transform:scaleX(0.942);transform-origin:left 50%">Gehäuseunterteil RA2</span></div>
<div style="position:absolute;left:735.95px;width:120px;top:672.63px;line-height:16.10px;font-size:14px;font-weight:normal;color:#111;text-align:center;white-space:nowrap;"><span style="display:inline-block;transform:scaleX(0.942);transform-origin:center 50%">1</span></div>
<div style="position:absolute;left:440.20px;width:120px;top:695.36px;line-height:16.10px;font-size:14px;font-weight:normal;color:#ff0000;text-align:center;white-space:nowrap;"><span style="display:inline-block;transform:scaleX(0.942);transform-origin:center 50%">29</span></div>
<div style="position:absolute;left:528.20px;top:695.36px;line-height:16.10px;font-size:14px;font-weight:normal;color:#111;white-space:nowrap;"><span style="display:inline-block;transform:scaleX(0.942);transform-origin:left 50%">90.4035.00</span></div>
<div style="position:absolute;left:613.10px;top:695.36px;line-height:16.10px;font-size:14px;font-weight:normal;color:#111;white-space:nowrap;word-spacing:-0.6px"><span style="display:inline-block;transform:scaleX(0.9);transform-origin:left 50%">O - Ring</span></div>
<div style="position:absolute;left:735.95px;width:120px;top:695.36px;line-height:16.10px;font-size:14px;font-weight:normal;color:#111;text-align:center;white-space:nowrap;"><span style="display:inline-block;transform:scaleX(0.942);transform-origin:center 50%">1</span></div>
<div style="position:absolute;left:440.20px;width:120px;top:718.09px;line-height:16.10px;font-size:14px;font-weight:normal;color:#111;text-align:center;white-space:nowrap;"><span style="display:inline-block;transform:scaleX(0.942);transform-origin:center 50%">30</span></div>
<div style="position:absolute;left:528.20px;top:718.09px;line-height:16.10px;font-size:14px;font-weight:normal;color:#111;white-space:nowrap;"><span style="display:inline-block;transform:scaleX(0.942);transform-origin:left 50%">36.3402.70</span></div>
<div style="position:absolute;left:613.10px;top:718.09px;line-height:16.10px;font-size:14px;font-weight:normal;color:#111;white-space:nowrap;"><span style="display:inline-block;transform:scaleX(0.942);transform-origin:left 50%">Rückschlagventil</span></div>
<div style="position:absolute;left:735.95px;width:120px;top:718.09px;line-height:16.10px;font-size:14px;font-weight:normal;color:#111;text-align:center;white-space:nowrap;"><span style="display:inline-block;transform:scaleX(0.942);transform-origin:center 50%">1</span></div>
<div style="position:absolute;left:440.20px;width:120px;top:740.82px;line-height:16.10px;font-size:14px;font-weight:normal;color:#111;text-align:center;white-space:nowrap;"><span style="display:inline-block;transform:scaleX(0.942);transform-origin:center 50%">31</span></div>
<div style="position:absolute;left:528.20px;top:740.82px;line-height:16.10px;font-size:14px;font-weight:normal;color:#111;white-space:nowrap;"><span style="display:inline-block;transform:scaleX(0.942);transform-origin:left 50%">94.7506.00</span></div>
<div style="position:absolute;left:613.10px;top:740.82px;line-height:16.10px;font-size:14px;font-weight:normal;color:#111;white-space:nowrap;"><span style="display:inline-block;transform:scaleX(0.942);transform-origin:left 50%">Feder</span></div>
<div style="position:absolute;left:735.95px;width:120px;top:740.82px;line-height:16.10px;font-size:14px;font-weight:normal;color:#111;text-align:center;white-space:nowrap;"><span style="display:inline-block;transform:scaleX(0.942);transform-origin:center 50%">1</span></div>
<div style="position:absolute;left:440.20px;width:120px;top:763.55px;line-height:16.10px;font-size:14px;font-weight:normal;color:#ff0000;text-align:center;white-space:nowrap;"><span style="display:inline-block;transform:scaleX(0.942);transform-origin:center 50%">32</span></div>
<div style="position:absolute;left:528.20px;top:763.55px;line-height:16.10px;font-size:14px;font-weight:normal;color:#111;white-space:nowrap;"><span style="display:inline-block;transform:scaleX(0.942);transform-origin:left 50%">90.3875.00</span></div>
<div style="position:absolute;left:613.10px;top:763.55px;line-height:16.10px;font-size:14px;font-weight:normal;color:#111;white-space:nowrap;word-spacing:-0.6px"><span style="display:inline-block;transform:scaleX(0.9);transform-origin:left 50%">O - Ring</span></div>
<div style="position:absolute;left:735.95px;width:120px;top:763.55px;line-height:16.10px;font-size:14px;font-weight:normal;color:#111;text-align:center;white-space:nowrap;"><span style="display:inline-block;transform:scaleX(0.942);transform-origin:center 50%">1</span></div>
<div style="position:absolute;left:440.20px;width:120px;top:786.28px;line-height:16.10px;font-size:14px;font-weight:normal;color:#111;text-align:center;white-space:nowrap;"><span style="display:inline-block;transform:scaleX(0.942);transform-origin:center 50%">33</span></div>
<div style="position:absolute;left:528.20px;top:786.28px;line-height:16.10px;font-size:14px;font-weight:normal;color:#111;white-space:nowrap;"><span style="display:inline-block;transform:scaleX(0.942);transform-origin:left 50%">36.3403.70</span></div>
<div style="position:absolute;left:613.10px;top:786.28px;line-height:16.10px;font-size:14px;font-weight:normal;color:#111;white-space:nowrap;"><span style="display:inline-block;transform:scaleX(0.942);transform-origin:left 50%">Anschlussnippel</span></div>
<div style="position:absolute;left:735.95px;width:120px;top:786.28px;line-height:16.10px;font-size:14px;font-weight:normal;color:#111;text-align:center;white-space:nowrap;"><span style="display:inline-block;transform:scaleX(0.942);transform-origin:center 50%">1</span></div>
<div style="position:absolute;left:449.40px;width:120px;top:818.87px;line-height:15.41px;font-size:13.4px;font-weight:bold;color:#fff;text-align:center;white-space:nowrap;"><span style="display:inline-block;transform:scaleX(1.0);transform-origin:center 50%">KIT Nr.</span></div>
<div style="position:absolute;left:500.50px;width:120px;top:818.87px;line-height:15.41px;font-size:13.4px;font-weight:bold;color:#fff;text-align:center;white-space:nowrap;letter-spacing:0.3px"><span style="display:inline-block;transform:scaleX(1.0);transform-origin:center 50%">für</span></div>
<div style="position:absolute;left:595.00px;width:120px;top:818.87px;line-height:15.41px;font-size:13.4px;font-weight:bold;color:#fff;text-align:center;white-space:nowrap;letter-spacing:0.39px"><span style="display:inline-block;transform:scaleX(1.0);transform-origin:center 50%">Beinhaltet</span></div>
<div style="position:absolute;left:715.30px;width:120px;top:818.87px;line-height:15.41px;font-size:13.4px;font-weight:bold;color:#fff;text-align:center;white-space:nowrap;letter-spacing:0.3px"><span style="display:inline-block;transform:scaleX(1.0);transform-origin:center 50%">Bestell Nr.</span></div>
<div style="position:absolute;left:449.40px;width:120px;top:837.62px;line-height:16.10px;font-size:14px;font-weight:normal;color:#111;text-align:center;white-space:nowrap;"><span style="display:inline-block;transform:scaleX(0.942);transform-origin:center 50%">2132</span></div>
<div style="position:absolute;left:500.50px;width:120px;top:837.62px;line-height:16.10px;font-size:14px;font-weight:normal;color:#111;text-align:center;white-space:nowrap;"><span style="display:inline-block;transform:scaleX(0.85);transform-origin:center 50%">RA2</span></div>
<div style="position:absolute;left:586.70px;top:837.52px;line-height:16.10px;font-size:14px;font-weight:normal;color:#c00000;white-space:nowrap;"><span style="display:inline-block;transform:scaleX(0.925);transform-origin:left 50%">12 13 15 18 20 21 23</span></div>
<div style="position:absolute;left:586.70px;top:855.52px;line-height:16.10px;font-size:14px;font-weight:normal;color:#c00000;white-space:nowrap;"><span style="display:inline-block;transform:scaleX(0.925);transform-origin:left 50%">24 25 26 27 29 32</span></div>
<div style="position:absolute;left:715.30px;width:120px;top:837.62px;line-height:16.10px;font-size:14px;font-weight:normal;color:#111;text-align:center;white-space:nowrap;"><span style="display:inline-block;transform:scaleX(0.938);transform-origin:center 50%">34.2132.01</span></div>
</body></html>
